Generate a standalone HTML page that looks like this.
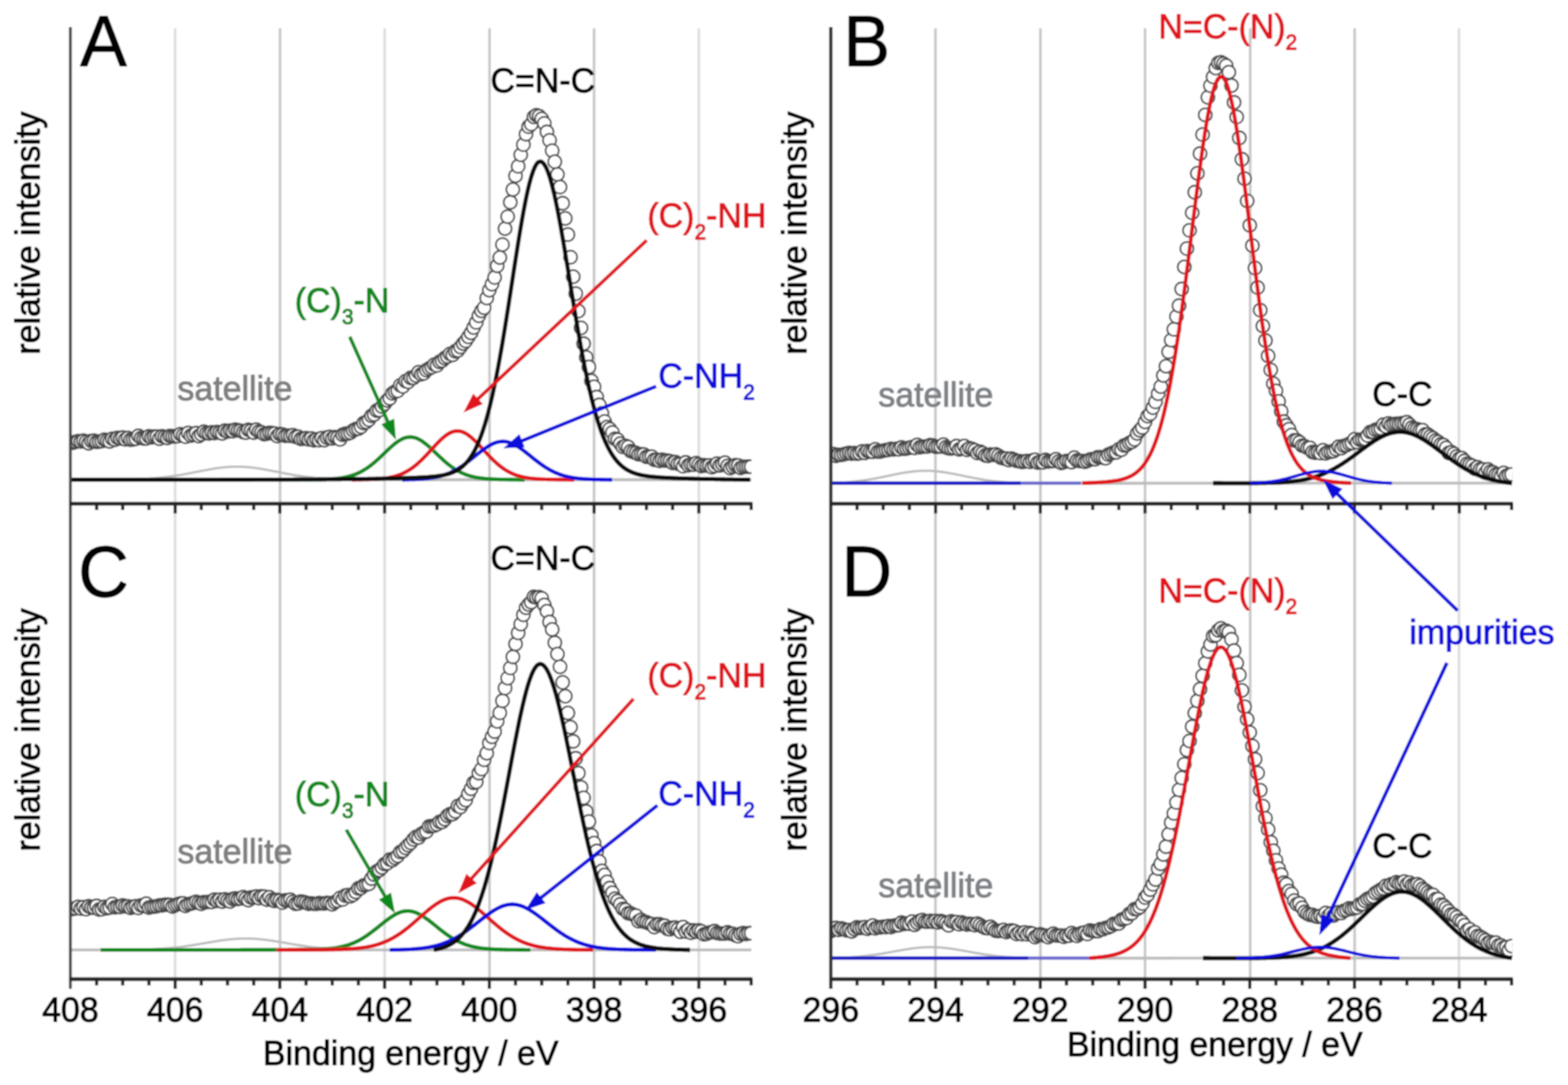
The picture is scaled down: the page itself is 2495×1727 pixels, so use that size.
<!DOCTYPE html>
<html lang="en">
<head>
<meta charset="utf-8">
<title>XPS spectra</title>
<style>
html,body{margin:0;padding:0;background:#fff;}
body{width:2495px;height:1727px;overflow:hidden;}
svg{display:block;}
</style>
</head>
<body>
<svg width="2495" height="1727" viewBox="0 0 2495 1727">
<defs><filter id="soft" x="0" y="0" width="100%" height="100%" filterUnits="objectBoundingBox"><feGaussianBlur stdDeviation="0.9"/></filter><filter id="soft2" x="0" y="0" width="100%" height="100%" filterUnits="objectBoundingBox"><feGaussianBlur stdDeviation="0.8"/></filter></defs>
<rect width="2495" height="1727" fill="#fff"/>
<g filter="url(#soft)">
<rect width="2495" height="1727" fill="#fff"/>
<g stroke-width="4.2">
<line x1="278.7" y1="45" x2="278.7" y2="1558.0" stroke="#dedede"/>
<line x1="445.6" y1="45" x2="445.6" y2="1558.0" stroke="#c8c8c8"/>
<line x1="612" y1="45" x2="612" y2="1558.0" stroke="#dedede"/>
<line x1="779" y1="45" x2="779" y2="1558.0" stroke="#c8c8c8"/>
<line x1="945.3" y1="45" x2="945.3" y2="1558.0" stroke="#c8c8c8"/>
<line x1="1112" y1="45" x2="1112" y2="1558.0" stroke="#dedede"/>
<line x1="1488.5" y1="45" x2="1488.5" y2="1558.0" stroke="#c8c8c8"/>
<line x1="1655.5" y1="45" x2="1655.5" y2="1558.0" stroke="#c8c8c8"/>
<line x1="1822" y1="45" x2="1822" y2="1558.0" stroke="#c8c8c8"/>
<line x1="1989.3" y1="45" x2="1989.3" y2="1558.0" stroke="#c8c8c8"/>
<line x1="2155.5" y1="45" x2="2155.5" y2="1558.0" stroke="#c8c8c8"/>
<line x1="2321.5" y1="45" x2="2321.5" y2="1558.0" stroke="#dedede"/>
</g>
<defs><clipPath id="clL"><rect x="112" y="0" width="1083.8" height="1727"/></clipPath><clipPath id="clR"><rect x="1322" y="0" width="1084.3" height="1727"/></clipPath></defs>
<g clip-path="url(#clL)"><g fill="#fff" stroke="#4a4a4a" stroke-width="2.8">
<circle cx="112" cy="704.3" r="10.5"/>
<circle cx="116.2" cy="704.7" r="10.5"/>
<circle cx="120.3" cy="703.4" r="10.5"/>
<circle cx="124.5" cy="702.1" r="10.5"/>
<circle cx="128.7" cy="702.7" r="10.5"/>
<circle cx="132.8" cy="701.5" r="10.5"/>
<circle cx="137" cy="703.3" r="10.5"/>
<circle cx="141.2" cy="705.5" r="10.5"/>
<circle cx="145.3" cy="701.8" r="10.5"/>
<circle cx="149.5" cy="701.4" r="10.5"/>
<circle cx="153.7" cy="703.3" r="10.5"/>
<circle cx="157.8" cy="702.8" r="10.5"/>
<circle cx="162" cy="702.1" r="10.5"/>
<circle cx="166.2" cy="699.9" r="10.5"/>
<circle cx="170.3" cy="701.4" r="10.5"/>
<circle cx="174.5" cy="702.5" r="10.5"/>
<circle cx="178.7" cy="698.4" r="10.5"/>
<circle cx="182.8" cy="699.9" r="10.5"/>
<circle cx="187" cy="696.9" r="10.5"/>
<circle cx="191.2" cy="697.8" r="10.5"/>
<circle cx="195.3" cy="696.5" r="10.5"/>
<circle cx="199.5" cy="699.3" r="10.5"/>
<circle cx="203.7" cy="697.1" r="10.5"/>
<circle cx="207.8" cy="699.8" r="10.5"/>
<circle cx="212" cy="699.3" r="10.5"/>
<circle cx="216.2" cy="698.4" r="10.5"/>
<circle cx="220.3" cy="693.7" r="10.5"/>
<circle cx="224.5" cy="697.2" r="10.5"/>
<circle cx="228.7" cy="697.9" r="10.5"/>
<circle cx="232.8" cy="697.9" r="10.5"/>
<circle cx="237" cy="694.5" r="10.5"/>
<circle cx="241.2" cy="696.2" r="10.5"/>
<circle cx="245.3" cy="695" r="10.5"/>
<circle cx="249.5" cy="695" r="10.5"/>
<circle cx="253.7" cy="698.3" r="10.5"/>
<circle cx="257.8" cy="694.4" r="10.5"/>
<circle cx="262" cy="695.6" r="10.5"/>
<circle cx="266.2" cy="697" r="10.5"/>
<circle cx="270.3" cy="693.9" r="10.5"/>
<circle cx="274.5" cy="694.5" r="10.5"/>
<circle cx="278.7" cy="694.5" r="10.5"/>
<circle cx="282.8" cy="694.1" r="10.5"/>
<circle cx="287" cy="691.2" r="10.5"/>
<circle cx="291.2" cy="693.3" r="10.5"/>
<circle cx="295.3" cy="695.2" r="10.5"/>
<circle cx="299.5" cy="689.2" r="10.5"/>
<circle cx="303.7" cy="693.3" r="10.5"/>
<circle cx="307.8" cy="691.5" r="10.5"/>
<circle cx="312" cy="689.5" r="10.5"/>
<circle cx="316.2" cy="694.1" r="10.5"/>
<circle cx="320.3" cy="691.3" r="10.5"/>
<circle cx="324.5" cy="687.2" r="10.5"/>
<circle cx="328.7" cy="689.3" r="10.5"/>
<circle cx="332.8" cy="689.9" r="10.5"/>
<circle cx="337" cy="688.1" r="10.5"/>
<circle cx="341.2" cy="689.4" r="10.5"/>
<circle cx="345.3" cy="687.6" r="10.5"/>
<circle cx="349.5" cy="688.6" r="10.5"/>
<circle cx="353.7" cy="689.8" r="10.5"/>
<circle cx="357.8" cy="685.4" r="10.5"/>
<circle cx="362" cy="686.9" r="10.5"/>
<circle cx="366.2" cy="685.4" r="10.5"/>
<circle cx="370.3" cy="686.4" r="10.5"/>
<circle cx="374.5" cy="683.8" r="10.5"/>
<circle cx="378.7" cy="684.9" r="10.5"/>
<circle cx="382.8" cy="685.7" r="10.5"/>
<circle cx="387" cy="687.9" r="10.5"/>
<circle cx="391.2" cy="688.6" r="10.5"/>
<circle cx="395.3" cy="684.2" r="10.5"/>
<circle cx="399.5" cy="685.5" r="10.5"/>
<circle cx="403.7" cy="688.5" r="10.5"/>
<circle cx="407.8" cy="683.8" r="10.5"/>
<circle cx="412" cy="687" r="10.5"/>
<circle cx="416.2" cy="688.1" r="10.5"/>
<circle cx="420.3" cy="691.1" r="10.5"/>
<circle cx="424.5" cy="690.4" r="10.5"/>
<circle cx="428.7" cy="689" r="10.5"/>
<circle cx="432.8" cy="689.5" r="10.5"/>
<circle cx="437" cy="690.2" r="10.5"/>
<circle cx="441.2" cy="694.1" r="10.5"/>
<circle cx="445.3" cy="691" r="10.5"/>
<circle cx="449.5" cy="691.7" r="10.5"/>
<circle cx="453.7" cy="693.6" r="10.5"/>
<circle cx="457.8" cy="693.3" r="10.5"/>
<circle cx="462" cy="693.7" r="10.5"/>
<circle cx="466.2" cy="692.6" r="10.5"/>
<circle cx="470.3" cy="695.3" r="10.5"/>
<circle cx="474.5" cy="695.1" r="10.5"/>
<circle cx="478.7" cy="698.7" r="10.5"/>
<circle cx="482.8" cy="698.3" r="10.5"/>
<circle cx="487" cy="697.5" r="10.5"/>
<circle cx="491.2" cy="699.3" r="10.5"/>
<circle cx="495.3" cy="697.8" r="10.5"/>
<circle cx="499.5" cy="700.9" r="10.5"/>
<circle cx="503.7" cy="699.3" r="10.5"/>
<circle cx="507.8" cy="700.7" r="10.5"/>
<circle cx="512" cy="697.4" r="10.5"/>
<circle cx="516.2" cy="700.6" r="10.5"/>
<circle cx="520.3" cy="696.5" r="10.5"/>
<circle cx="524.5" cy="695.3" r="10.5"/>
<circle cx="528.7" cy="697.8" r="10.5"/>
<circle cx="532.8" cy="695.7" r="10.5"/>
<circle cx="537" cy="696.7" r="10.5"/>
<circle cx="541.1" cy="699.4" r="10.5"/>
<circle cx="545.3" cy="692" r="10.5"/>
<circle cx="549.5" cy="690.5" r="10.5"/>
<circle cx="553.6" cy="690.1" r="10.5"/>
<circle cx="557.8" cy="688.6" r="10.5"/>
<circle cx="562" cy="685.2" r="10.5"/>
<circle cx="566.1" cy="683" r="10.5"/>
<circle cx="570.3" cy="682.3" r="10.5"/>
<circle cx="574.5" cy="679.3" r="10.5"/>
<circle cx="578.6" cy="673.4" r="10.5"/>
<circle cx="582.8" cy="671.8" r="10.5"/>
<circle cx="587" cy="668.1" r="10.5"/>
<circle cx="591.1" cy="661.8" r="10.5"/>
<circle cx="595.3" cy="659.9" r="10.5"/>
<circle cx="599.5" cy="653.5" r="10.5"/>
<circle cx="603.6" cy="652.8" r="10.5"/>
<circle cx="607.8" cy="647.2" r="10.5"/>
<circle cx="612" cy="642.8" r="10.5"/>
<circle cx="616.1" cy="637.3" r="10.5"/>
<circle cx="620.3" cy="634" r="10.5"/>
<circle cx="624.5" cy="626.2" r="10.5"/>
<circle cx="628.6" cy="623.5" r="10.5"/>
<circle cx="632.8" cy="622.1" r="10.5"/>
<circle cx="637" cy="613.3" r="10.5"/>
<circle cx="641.1" cy="615.1" r="10.5"/>
<circle cx="645.3" cy="606.6" r="10.5"/>
<circle cx="649.5" cy="607.8" r="10.5"/>
<circle cx="653.6" cy="601.5" r="10.5"/>
<circle cx="657.8" cy="601.6" r="10.5"/>
<circle cx="662" cy="597.8" r="10.5"/>
<circle cx="666.1" cy="592.4" r="10.5"/>
<circle cx="670.3" cy="595.7" r="10.5"/>
<circle cx="674.5" cy="594.1" r="10.5"/>
<circle cx="678.6" cy="589.2" r="10.5"/>
<circle cx="682.8" cy="586.6" r="10.5"/>
<circle cx="687" cy="584.4" r="10.5"/>
<circle cx="691.1" cy="580.4" r="10.5"/>
<circle cx="695.3" cy="581.7" r="10.5"/>
<circle cx="699.5" cy="576" r="10.5"/>
<circle cx="703.6" cy="574.2" r="10.5"/>
<circle cx="707.8" cy="570" r="10.5"/>
<circle cx="712" cy="567.5" r="10.5"/>
<circle cx="716.1" cy="563.3" r="10.5"/>
<circle cx="720.3" cy="564.9" r="10.5"/>
<circle cx="724.5" cy="559" r="10.5"/>
<circle cx="728.6" cy="557.8" r="10.5"/>
<circle cx="732.8" cy="552.3" r="10.5"/>
<circle cx="737" cy="546.9" r="10.5"/>
<circle cx="741.1" cy="542.7" r="10.5"/>
<circle cx="745.3" cy="536.1" r="10.5"/>
<circle cx="749.5" cy="529.9" r="10.5"/>
<circle cx="753.6" cy="521.3" r="10.5"/>
<circle cx="757.8" cy="513.2" r="10.5"/>
<circle cx="762" cy="502.6" r="10.5"/>
<circle cx="766.1" cy="494.8" r="10.5"/>
<circle cx="770.3" cy="489.8" r="10.5"/>
<circle cx="774.5" cy="474.4" r="10.5"/>
<circle cx="778.6" cy="461.8" r="10.5"/>
<circle cx="782.8" cy="452.3" r="10.5"/>
<circle cx="787" cy="441.7" r="10.5"/>
<circle cx="791.1" cy="423" r="10.5"/>
<circle cx="795.3" cy="409.9" r="10.5"/>
<circle cx="799.5" cy="389.3" r="10.5"/>
<circle cx="803.6" cy="363.9" r="10.5"/>
<circle cx="807.8" cy="344.8" r="10.5"/>
<circle cx="812" cy="322" r="10.5"/>
<circle cx="816.1" cy="301.6" r="10.5"/>
<circle cx="820.3" cy="279.9" r="10.5"/>
<circle cx="824.5" cy="264.7" r="10.5"/>
<circle cx="828.6" cy="246.4" r="10.5"/>
<circle cx="832.8" cy="230.2" r="10.5"/>
<circle cx="837" cy="213.5" r="10.5"/>
<circle cx="841.1" cy="201.7" r="10.5"/>
<circle cx="845.3" cy="197.7" r="10.5"/>
<circle cx="849.5" cy="186.1" r="10.5"/>
<circle cx="853.6" cy="183.4" r="10.5"/>
<circle cx="857.8" cy="184.9" r="10.5"/>
<circle cx="862" cy="189.2" r="10.5"/>
<circle cx="866.1" cy="196.3" r="10.5"/>
<circle cx="870.3" cy="210" r="10.5"/>
<circle cx="874.5" cy="223.3" r="10.5"/>
<circle cx="878.6" cy="239.8" r="10.5"/>
<circle cx="882.8" cy="257.4" r="10.5"/>
<circle cx="887" cy="277.6" r="10.5"/>
<circle cx="891.1" cy="297.7" r="10.5"/>
<circle cx="895.3" cy="323.5" r="10.5"/>
<circle cx="899.5" cy="347.6" r="10.5"/>
<circle cx="903.6" cy="373.4" r="10.5"/>
<circle cx="907.8" cy="409.3" r="10.5"/>
<circle cx="912" cy="440.4" r="10.5"/>
<circle cx="916.1" cy="467.3" r="10.5"/>
<circle cx="920.3" cy="495.1" r="10.5"/>
<circle cx="924.5" cy="521.8" r="10.5"/>
<circle cx="928.6" cy="547" r="10.5"/>
<circle cx="932.8" cy="568.8" r="10.5"/>
<circle cx="937" cy="584.2" r="10.5"/>
<circle cx="941.1" cy="606.2" r="10.5"/>
<circle cx="945.3" cy="615.7" r="10.5"/>
<circle cx="949.5" cy="632" r="10.5"/>
<circle cx="953.6" cy="644.5" r="10.5"/>
<circle cx="957.8" cy="658" r="10.5"/>
<circle cx="962" cy="670.8" r="10.5"/>
<circle cx="966.1" cy="679.6" r="10.5"/>
<circle cx="970.3" cy="682.8" r="10.5"/>
<circle cx="974.5" cy="688.3" r="10.5"/>
<circle cx="978.6" cy="698.5" r="10.5"/>
<circle cx="982.8" cy="699.8" r="10.5"/>
<circle cx="987" cy="706.1" r="10.5"/>
<circle cx="991.1" cy="711.4" r="10.5"/>
<circle cx="995.3" cy="709.7" r="10.5"/>
<circle cx="999.5" cy="711.4" r="10.5"/>
<circle cx="1003.6" cy="718.1" r="10.5"/>
<circle cx="1007.8" cy="719.7" r="10.5"/>
<circle cx="1012" cy="720.9" r="10.5"/>
<circle cx="1016.1" cy="723.2" r="10.5"/>
<circle cx="1020.3" cy="723.1" r="10.5"/>
<circle cx="1024.5" cy="723.3" r="10.5"/>
<circle cx="1028.6" cy="727.2" r="10.5"/>
<circle cx="1032.8" cy="727" r="10.5"/>
<circle cx="1037" cy="726.8" r="10.5"/>
<circle cx="1041.1" cy="731.9" r="10.5"/>
<circle cx="1045.3" cy="731.8" r="10.5"/>
<circle cx="1049.5" cy="733.5" r="10.5"/>
<circle cx="1053.6" cy="731.7" r="10.5"/>
<circle cx="1057.8" cy="733.1" r="10.5"/>
<circle cx="1062" cy="733.2" r="10.5"/>
<circle cx="1066.1" cy="734.1" r="10.5"/>
<circle cx="1070.3" cy="736.8" r="10.5"/>
<circle cx="1074.5" cy="735.5" r="10.5"/>
<circle cx="1078.6" cy="738.2" r="10.5"/>
<circle cx="1082.8" cy="738.6" r="10.5"/>
<circle cx="1087" cy="742.2" r="10.5"/>
<circle cx="1091.1" cy="736" r="10.5"/>
<circle cx="1095.3" cy="740.7" r="10.5"/>
<circle cx="1099.5" cy="739.2" r="10.5"/>
<circle cx="1103.6" cy="739.6" r="10.5"/>
<circle cx="1107.8" cy="737.2" r="10.5"/>
<circle cx="1112" cy="739.3" r="10.5"/>
<circle cx="1116.1" cy="741.8" r="10.5"/>
<circle cx="1120.3" cy="740.5" r="10.5"/>
<circle cx="1124.5" cy="741.1" r="10.5"/>
<circle cx="1128.6" cy="740.7" r="10.5"/>
<circle cx="1132.8" cy="743.7" r="10.5"/>
<circle cx="1137" cy="741.7" r="10.5"/>
<circle cx="1141.1" cy="737.8" r="10.5"/>
<circle cx="1145.3" cy="740.9" r="10.5"/>
<circle cx="1149.5" cy="738.7" r="10.5"/>
<circle cx="1153.6" cy="736.4" r="10.5"/>
<circle cx="1157.8" cy="741.7" r="10.5"/>
<circle cx="1162" cy="745.2" r="10.5"/>
<circle cx="1166.1" cy="742.8" r="10.5"/>
<circle cx="1170.3" cy="740.5" r="10.5"/>
<circle cx="1174.5" cy="740.9" r="10.5"/>
<circle cx="1178.6" cy="744.8" r="10.5"/>
<circle cx="1182.8" cy="743" r="10.5"/>
<circle cx="1187" cy="742.8" r="10.5"/>
<circle cx="1191.1" cy="742.6" r="10.5"/>
<circle cx="1195.3" cy="742.8" r="10.5"/>
</g></g>
<g clip-path="url(#clL)"><g fill="#fff" stroke="#4a4a4a" stroke-width="2.8">
<circle cx="112" cy="1447.1" r="10.5"/>
<circle cx="116.2" cy="1446.6" r="10.5"/>
<circle cx="120.3" cy="1445.8" r="10.5"/>
<circle cx="124.5" cy="1443.3" r="10.5"/>
<circle cx="128.7" cy="1446.2" r="10.5"/>
<circle cx="132.8" cy="1443.8" r="10.5"/>
<circle cx="137" cy="1447.1" r="10.5"/>
<circle cx="141.2" cy="1442.5" r="10.5"/>
<circle cx="145.3" cy="1444.5" r="10.5"/>
<circle cx="149.5" cy="1444.6" r="10.5"/>
<circle cx="153.7" cy="1442" r="10.5"/>
<circle cx="157.8" cy="1447.7" r="10.5"/>
<circle cx="162" cy="1447.1" r="10.5"/>
<circle cx="166.2" cy="1443.3" r="10.5"/>
<circle cx="170.3" cy="1445.5" r="10.5"/>
<circle cx="174.5" cy="1444.6" r="10.5"/>
<circle cx="178.7" cy="1438.8" r="10.5"/>
<circle cx="182.8" cy="1444.1" r="10.5"/>
<circle cx="187" cy="1443.4" r="10.5"/>
<circle cx="191.2" cy="1443.5" r="10.5"/>
<circle cx="195.3" cy="1441.2" r="10.5"/>
<circle cx="199.5" cy="1442.5" r="10.5"/>
<circle cx="203.7" cy="1442.6" r="10.5"/>
<circle cx="207.8" cy="1445" r="10.5"/>
<circle cx="212" cy="1443.3" r="10.5"/>
<circle cx="216.2" cy="1442.5" r="10.5"/>
<circle cx="220.3" cy="1445.2" r="10.5"/>
<circle cx="224.5" cy="1441.1" r="10.5"/>
<circle cx="228.7" cy="1441.3" r="10.5"/>
<circle cx="232.8" cy="1438.4" r="10.5"/>
<circle cx="237" cy="1444.6" r="10.5"/>
<circle cx="241.2" cy="1443.3" r="10.5"/>
<circle cx="245.3" cy="1443.1" r="10.5"/>
<circle cx="249.5" cy="1442.4" r="10.5"/>
<circle cx="253.7" cy="1441.2" r="10.5"/>
<circle cx="257.8" cy="1441.2" r="10.5"/>
<circle cx="262" cy="1440.1" r="10.5"/>
<circle cx="266.2" cy="1440" r="10.5"/>
<circle cx="270.3" cy="1440.3" r="10.5"/>
<circle cx="274.5" cy="1442.8" r="10.5"/>
<circle cx="278.7" cy="1440.8" r="10.5"/>
<circle cx="282.8" cy="1439.4" r="10.5"/>
<circle cx="287" cy="1438.1" r="10.5"/>
<circle cx="291.2" cy="1437.8" r="10.5"/>
<circle cx="295.3" cy="1441.8" r="10.5"/>
<circle cx="299.5" cy="1439.4" r="10.5"/>
<circle cx="303.7" cy="1438.3" r="10.5"/>
<circle cx="307.8" cy="1437.2" r="10.5"/>
<circle cx="312" cy="1435.5" r="10.5"/>
<circle cx="316.2" cy="1437.1" r="10.5"/>
<circle cx="320.3" cy="1438.6" r="10.5"/>
<circle cx="324.5" cy="1435.8" r="10.5"/>
<circle cx="328.7" cy="1435.8" r="10.5"/>
<circle cx="332.8" cy="1435.4" r="10.5"/>
<circle cx="337" cy="1435.6" r="10.5"/>
<circle cx="341.2" cy="1431.9" r="10.5"/>
<circle cx="345.3" cy="1433.9" r="10.5"/>
<circle cx="349.5" cy="1432.2" r="10.5"/>
<circle cx="353.7" cy="1435" r="10.5"/>
<circle cx="357.8" cy="1431.4" r="10.5"/>
<circle cx="362" cy="1433.4" r="10.5"/>
<circle cx="366.2" cy="1434.8" r="10.5"/>
<circle cx="370.3" cy="1430.8" r="10.5"/>
<circle cx="374.5" cy="1429.9" r="10.5"/>
<circle cx="378.7" cy="1430.9" r="10.5"/>
<circle cx="382.8" cy="1430.1" r="10.5"/>
<circle cx="387" cy="1427.8" r="10.5"/>
<circle cx="391.2" cy="1430.2" r="10.5"/>
<circle cx="395.3" cy="1432.9" r="10.5"/>
<circle cx="399.5" cy="1428.5" r="10.5"/>
<circle cx="403.7" cy="1428.5" r="10.5"/>
<circle cx="407.8" cy="1427" r="10.5"/>
<circle cx="412" cy="1429.6" r="10.5"/>
<circle cx="416.2" cy="1426.7" r="10.5"/>
<circle cx="420.3" cy="1427.1" r="10.5"/>
<circle cx="424.5" cy="1431.9" r="10.5"/>
<circle cx="428.7" cy="1428.1" r="10.5"/>
<circle cx="432.8" cy="1432.5" r="10.5"/>
<circle cx="437" cy="1434" r="10.5"/>
<circle cx="441.2" cy="1432.3" r="10.5"/>
<circle cx="445.3" cy="1433.5" r="10.5"/>
<circle cx="449.5" cy="1436.7" r="10.5"/>
<circle cx="453.7" cy="1433.2" r="10.5"/>
<circle cx="457.8" cy="1433" r="10.5"/>
<circle cx="462" cy="1432.1" r="10.5"/>
<circle cx="466.2" cy="1435.3" r="10.5"/>
<circle cx="470.3" cy="1438.5" r="10.5"/>
<circle cx="474.5" cy="1438" r="10.5"/>
<circle cx="478.7" cy="1434.9" r="10.5"/>
<circle cx="482.8" cy="1435.6" r="10.5"/>
<circle cx="487" cy="1436.8" r="10.5"/>
<circle cx="491.2" cy="1438.7" r="10.5"/>
<circle cx="495.3" cy="1437.9" r="10.5"/>
<circle cx="499.5" cy="1438.7" r="10.5"/>
<circle cx="503.7" cy="1438.7" r="10.5"/>
<circle cx="507.8" cy="1437.5" r="10.5"/>
<circle cx="512" cy="1437.8" r="10.5"/>
<circle cx="516.2" cy="1438.1" r="10.5"/>
<circle cx="520.3" cy="1437.1" r="10.5"/>
<circle cx="524.5" cy="1437.6" r="10.5"/>
<circle cx="528.7" cy="1439.4" r="10.5"/>
<circle cx="532.8" cy="1436" r="10.5"/>
<circle cx="537" cy="1433.9" r="10.5"/>
<circle cx="541.1" cy="1429.3" r="10.5"/>
<circle cx="545.3" cy="1431.7" r="10.5"/>
<circle cx="549.5" cy="1425.5" r="10.5"/>
<circle cx="553.6" cy="1424.6" r="10.5"/>
<circle cx="557.8" cy="1426.7" r="10.5"/>
<circle cx="562" cy="1424.1" r="10.5"/>
<circle cx="566.1" cy="1419.9" r="10.5"/>
<circle cx="570.3" cy="1414" r="10.5"/>
<circle cx="574.5" cy="1413.4" r="10.5"/>
<circle cx="578.6" cy="1409.4" r="10.5"/>
<circle cx="582.8" cy="1408.1" r="10.5"/>
<circle cx="587" cy="1406.9" r="10.5"/>
<circle cx="591.1" cy="1398.5" r="10.5"/>
<circle cx="595.3" cy="1392" r="10.5"/>
<circle cx="599.5" cy="1386.9" r="10.5"/>
<circle cx="603.6" cy="1385" r="10.5"/>
<circle cx="607.8" cy="1380.9" r="10.5"/>
<circle cx="612" cy="1375.3" r="10.5"/>
<circle cx="616.1" cy="1374" r="10.5"/>
<circle cx="620.3" cy="1368.1" r="10.5"/>
<circle cx="624.5" cy="1369" r="10.5"/>
<circle cx="628.6" cy="1365.6" r="10.5"/>
<circle cx="632.8" cy="1362.3" r="10.5"/>
<circle cx="637" cy="1356.1" r="10.5"/>
<circle cx="641.1" cy="1354.5" r="10.5"/>
<circle cx="645.3" cy="1349.6" r="10.5"/>
<circle cx="649.5" cy="1345.3" r="10.5"/>
<circle cx="653.6" cy="1341.6" r="10.5"/>
<circle cx="657.8" cy="1336.1" r="10.5"/>
<circle cx="662" cy="1332.2" r="10.5"/>
<circle cx="666.1" cy="1333" r="10.5"/>
<circle cx="670.3" cy="1327.7" r="10.5"/>
<circle cx="674.5" cy="1325.1" r="10.5"/>
<circle cx="678.6" cy="1323.5" r="10.5"/>
<circle cx="682.8" cy="1315.5" r="10.5"/>
<circle cx="687" cy="1314.8" r="10.5"/>
<circle cx="691.1" cy="1314.2" r="10.5"/>
<circle cx="695.3" cy="1312.2" r="10.5"/>
<circle cx="699.5" cy="1308.2" r="10.5"/>
<circle cx="703.6" cy="1308.3" r="10.5"/>
<circle cx="707.8" cy="1304" r="10.5"/>
<circle cx="712" cy="1298.5" r="10.5"/>
<circle cx="716.1" cy="1296" r="10.5"/>
<circle cx="720.3" cy="1295.9" r="10.5"/>
<circle cx="724.5" cy="1291.6" r="10.5"/>
<circle cx="728.6" cy="1283" r="10.5"/>
<circle cx="732.8" cy="1284.6" r="10.5"/>
<circle cx="737" cy="1278.1" r="10.5"/>
<circle cx="741.1" cy="1273.6" r="10.5"/>
<circle cx="745.3" cy="1263.3" r="10.5"/>
<circle cx="749.5" cy="1255.6" r="10.5"/>
<circle cx="753.6" cy="1246" r="10.5"/>
<circle cx="757.8" cy="1244.6" r="10.5"/>
<circle cx="762" cy="1230.5" r="10.5"/>
<circle cx="766.1" cy="1224.2" r="10.5"/>
<circle cx="770.3" cy="1209.3" r="10.5"/>
<circle cx="774.5" cy="1198.9" r="10.5"/>
<circle cx="778.6" cy="1182.7" r="10.5"/>
<circle cx="782.8" cy="1172.8" r="10.5"/>
<circle cx="787" cy="1164.5" r="10.5"/>
<circle cx="791.1" cy="1148.1" r="10.5"/>
<circle cx="795.3" cy="1134.7" r="10.5"/>
<circle cx="799.5" cy="1115.5" r="10.5"/>
<circle cx="803.6" cy="1095.2" r="10.5"/>
<circle cx="807.8" cy="1079.3" r="10.5"/>
<circle cx="812" cy="1063.2" r="10.5"/>
<circle cx="816.1" cy="1045.5" r="10.5"/>
<circle cx="820.3" cy="1025" r="10.5"/>
<circle cx="824.5" cy="1007.4" r="10.5"/>
<circle cx="828.6" cy="993.4" r="10.5"/>
<circle cx="832.8" cy="978.6" r="10.5"/>
<circle cx="837" cy="967.3" r="10.5"/>
<circle cx="841.1" cy="962.1" r="10.5"/>
<circle cx="845.3" cy="958.5" r="10.5"/>
<circle cx="849.5" cy="950" r="10.5"/>
<circle cx="853.6" cy="951.2" r="10.5"/>
<circle cx="857.8" cy="950.5" r="10.5"/>
<circle cx="862" cy="952.3" r="10.5"/>
<circle cx="866.1" cy="962.9" r="10.5"/>
<circle cx="870.3" cy="972.9" r="10.5"/>
<circle cx="874.5" cy="990" r="10.5"/>
<circle cx="878.6" cy="1001.9" r="10.5"/>
<circle cx="882.8" cy="1023" r="10.5"/>
<circle cx="887" cy="1041.1" r="10.5"/>
<circle cx="891.1" cy="1061.3" r="10.5"/>
<circle cx="895.3" cy="1086.1" r="10.5"/>
<circle cx="899.5" cy="1108.1" r="10.5"/>
<circle cx="903.6" cy="1134.9" r="10.5"/>
<circle cx="907.8" cy="1157.4" r="10.5"/>
<circle cx="912" cy="1180" r="10.5"/>
<circle cx="916.1" cy="1207" r="10.5"/>
<circle cx="920.3" cy="1230.5" r="10.5"/>
<circle cx="924.5" cy="1253.2" r="10.5"/>
<circle cx="928.6" cy="1269.8" r="10.5"/>
<circle cx="932.8" cy="1291.5" r="10.5"/>
<circle cx="937" cy="1307.6" r="10.5"/>
<circle cx="941.1" cy="1329.6" r="10.5"/>
<circle cx="945.3" cy="1341.9" r="10.5"/>
<circle cx="949.5" cy="1354.5" r="10.5"/>
<circle cx="953.6" cy="1371.2" r="10.5"/>
<circle cx="957.8" cy="1386.2" r="10.5"/>
<circle cx="962" cy="1392.7" r="10.5"/>
<circle cx="966.1" cy="1403.6" r="10.5"/>
<circle cx="970.3" cy="1413.5" r="10.5"/>
<circle cx="974.5" cy="1420.9" r="10.5"/>
<circle cx="978.6" cy="1430.4" r="10.5"/>
<circle cx="982.8" cy="1434" r="10.5"/>
<circle cx="987" cy="1439.5" r="10.5"/>
<circle cx="991.1" cy="1446.7" r="10.5"/>
<circle cx="995.3" cy="1448.1" r="10.5"/>
<circle cx="999.5" cy="1453.7" r="10.5"/>
<circle cx="1003.6" cy="1454" r="10.5"/>
<circle cx="1007.8" cy="1456.1" r="10.5"/>
<circle cx="1012" cy="1457.3" r="10.5"/>
<circle cx="1016.1" cy="1466.4" r="10.5"/>
<circle cx="1020.3" cy="1464.2" r="10.5"/>
<circle cx="1024.5" cy="1467" r="10.5"/>
<circle cx="1028.6" cy="1468" r="10.5"/>
<circle cx="1032.8" cy="1469.8" r="10.5"/>
<circle cx="1037" cy="1470.9" r="10.5"/>
<circle cx="1041.1" cy="1475.6" r="10.5"/>
<circle cx="1045.3" cy="1471.2" r="10.5"/>
<circle cx="1049.5" cy="1471.2" r="10.5"/>
<circle cx="1053.6" cy="1473.2" r="10.5"/>
<circle cx="1057.8" cy="1473.5" r="10.5"/>
<circle cx="1062" cy="1478.3" r="10.5"/>
<circle cx="1066.1" cy="1479.2" r="10.5"/>
<circle cx="1070.3" cy="1476.6" r="10.5"/>
<circle cx="1074.5" cy="1476.5" r="10.5"/>
<circle cx="1078.6" cy="1479.1" r="10.5"/>
<circle cx="1082.8" cy="1483.1" r="10.5"/>
<circle cx="1087" cy="1475.7" r="10.5"/>
<circle cx="1091.1" cy="1482.6" r="10.5"/>
<circle cx="1095.3" cy="1480.1" r="10.5"/>
<circle cx="1099.5" cy="1484.6" r="10.5"/>
<circle cx="1103.6" cy="1481" r="10.5"/>
<circle cx="1107.8" cy="1482.9" r="10.5"/>
<circle cx="1112" cy="1480.9" r="10.5"/>
<circle cx="1116.1" cy="1482.3" r="10.5"/>
<circle cx="1120.3" cy="1487.2" r="10.5"/>
<circle cx="1124.5" cy="1486.4" r="10.5"/>
<circle cx="1128.6" cy="1484.4" r="10.5"/>
<circle cx="1132.8" cy="1483.7" r="10.5"/>
<circle cx="1137" cy="1482" r="10.5"/>
<circle cx="1141.1" cy="1485" r="10.5"/>
<circle cx="1145.3" cy="1485.8" r="10.5"/>
<circle cx="1149.5" cy="1485.8" r="10.5"/>
<circle cx="1153.6" cy="1485.9" r="10.5"/>
<circle cx="1157.8" cy="1484" r="10.5"/>
<circle cx="1162" cy="1486.1" r="10.5"/>
<circle cx="1166.1" cy="1486.3" r="10.5"/>
<circle cx="1170.3" cy="1488.9" r="10.5"/>
<circle cx="1174.5" cy="1490.1" r="10.5"/>
<circle cx="1178.6" cy="1486.3" r="10.5"/>
<circle cx="1182.8" cy="1485.2" r="10.5"/>
<circle cx="1187" cy="1486.5" r="10.5"/>
<circle cx="1191.1" cy="1485.5" r="10.5"/>
<circle cx="1195.3" cy="1485.3" r="10.5"/>
</g></g>
<g clip-path="url(#clR)"><g fill="#fff" stroke="#4a4a4a" stroke-width="2.8">
<circle cx="1322" cy="724.7" r="10.5"/>
<circle cx="1326.2" cy="722.6" r="10.5"/>
<circle cx="1330.3" cy="725.5" r="10.5"/>
<circle cx="1334.5" cy="723.8" r="10.5"/>
<circle cx="1338.7" cy="724.2" r="10.5"/>
<circle cx="1342.8" cy="723.1" r="10.5"/>
<circle cx="1347" cy="721.8" r="10.5"/>
<circle cx="1351.2" cy="721" r="10.5"/>
<circle cx="1355.3" cy="722" r="10.5"/>
<circle cx="1359.5" cy="721.1" r="10.5"/>
<circle cx="1363.7" cy="722.2" r="10.5"/>
<circle cx="1367.8" cy="721.4" r="10.5"/>
<circle cx="1372" cy="718.5" r="10.5"/>
<circle cx="1376.2" cy="720.8" r="10.5"/>
<circle cx="1380.3" cy="717.8" r="10.5"/>
<circle cx="1384.5" cy="718.8" r="10.5"/>
<circle cx="1388.7" cy="719" r="10.5"/>
<circle cx="1392.8" cy="715.2" r="10.5"/>
<circle cx="1397" cy="718.9" r="10.5"/>
<circle cx="1401.2" cy="718.5" r="10.5"/>
<circle cx="1405.3" cy="717.4" r="10.5"/>
<circle cx="1409.5" cy="716.5" r="10.5"/>
<circle cx="1413.7" cy="716.1" r="10.5"/>
<circle cx="1417.8" cy="714.4" r="10.5"/>
<circle cx="1422" cy="715.3" r="10.5"/>
<circle cx="1426.2" cy="714.3" r="10.5"/>
<circle cx="1430.3" cy="715.1" r="10.5"/>
<circle cx="1434.5" cy="712.2" r="10.5"/>
<circle cx="1438.7" cy="714.4" r="10.5"/>
<circle cx="1442.8" cy="713.8" r="10.5"/>
<circle cx="1447" cy="712.7" r="10.5"/>
<circle cx="1451.2" cy="711.6" r="10.5"/>
<circle cx="1455.3" cy="712.9" r="10.5"/>
<circle cx="1459.5" cy="708.2" r="10.5"/>
<circle cx="1463.7" cy="711.8" r="10.5"/>
<circle cx="1467.8" cy="710.9" r="10.5"/>
<circle cx="1472" cy="710.7" r="10.5"/>
<circle cx="1476.2" cy="710.6" r="10.5"/>
<circle cx="1480.3" cy="708.5" r="10.5"/>
<circle cx="1484.5" cy="709.2" r="10.5"/>
<circle cx="1488.7" cy="711" r="10.5"/>
<circle cx="1492.8" cy="710.8" r="10.5"/>
<circle cx="1497" cy="710.7" r="10.5"/>
<circle cx="1501.2" cy="707.7" r="10.5"/>
<circle cx="1505.3" cy="712" r="10.5"/>
<circle cx="1509.5" cy="713.7" r="10.5"/>
<circle cx="1513.7" cy="713.9" r="10.5"/>
<circle cx="1517.8" cy="712.9" r="10.5"/>
<circle cx="1522" cy="710" r="10.5"/>
<circle cx="1526.2" cy="715.3" r="10.5"/>
<circle cx="1530.3" cy="713.8" r="10.5"/>
<circle cx="1534.5" cy="709.9" r="10.5"/>
<circle cx="1538.7" cy="716.1" r="10.5"/>
<circle cx="1542.8" cy="713.3" r="10.5"/>
<circle cx="1547" cy="714.6" r="10.5"/>
<circle cx="1551.2" cy="716.7" r="10.5"/>
<circle cx="1555.3" cy="721.2" r="10.5"/>
<circle cx="1559.5" cy="719" r="10.5"/>
<circle cx="1563.7" cy="721.2" r="10.5"/>
<circle cx="1567.8" cy="724.9" r="10.5"/>
<circle cx="1572" cy="725.5" r="10.5"/>
<circle cx="1576.2" cy="723.3" r="10.5"/>
<circle cx="1580.3" cy="724.1" r="10.5"/>
<circle cx="1584.5" cy="723.2" r="10.5"/>
<circle cx="1588.7" cy="725.3" r="10.5"/>
<circle cx="1592.8" cy="728.5" r="10.5"/>
<circle cx="1597" cy="729.5" r="10.5"/>
<circle cx="1601.2" cy="729.9" r="10.5"/>
<circle cx="1605.3" cy="732.4" r="10.5"/>
<circle cx="1609.5" cy="729.8" r="10.5"/>
<circle cx="1613.7" cy="731.7" r="10.5"/>
<circle cx="1617.8" cy="733.7" r="10.5"/>
<circle cx="1622" cy="733.9" r="10.5"/>
<circle cx="1626.2" cy="735.4" r="10.5"/>
<circle cx="1630.3" cy="734.5" r="10.5"/>
<circle cx="1634.5" cy="733.6" r="10.5"/>
<circle cx="1638.7" cy="735.2" r="10.5"/>
<circle cx="1642.8" cy="732.9" r="10.5"/>
<circle cx="1647" cy="731.9" r="10.5"/>
<circle cx="1651.2" cy="736.3" r="10.5"/>
<circle cx="1655.3" cy="735.1" r="10.5"/>
<circle cx="1659.5" cy="735.8" r="10.5"/>
<circle cx="1663.7" cy="732" r="10.5"/>
<circle cx="1667.8" cy="734.5" r="10.5"/>
<circle cx="1672" cy="734.1" r="10.5"/>
<circle cx="1676.2" cy="733.6" r="10.5"/>
<circle cx="1680.3" cy="730.9" r="10.5"/>
<circle cx="1684.5" cy="734.6" r="10.5"/>
<circle cx="1688.7" cy="736.8" r="10.5"/>
<circle cx="1692.8" cy="735.7" r="10.5"/>
<circle cx="1697" cy="733.6" r="10.5"/>
<circle cx="1701.2" cy="734.4" r="10.5"/>
<circle cx="1705.3" cy="735.5" r="10.5"/>
<circle cx="1709.5" cy="728.4" r="10.5"/>
<circle cx="1713.7" cy="733" r="10.5"/>
<circle cx="1717.8" cy="733.8" r="10.5"/>
<circle cx="1722" cy="733.7" r="10.5"/>
<circle cx="1726.2" cy="735.1" r="10.5"/>
<circle cx="1730.3" cy="733.5" r="10.5"/>
<circle cx="1734.5" cy="731.3" r="10.5"/>
<circle cx="1738.7" cy="730.6" r="10.5"/>
<circle cx="1742.8" cy="730.8" r="10.5"/>
<circle cx="1747" cy="727.6" r="10.5"/>
<circle cx="1751.1" cy="727.7" r="10.5"/>
<circle cx="1755.3" cy="728.5" r="10.5"/>
<circle cx="1759.5" cy="729.3" r="10.5"/>
<circle cx="1763.6" cy="723.7" r="10.5"/>
<circle cx="1767.8" cy="721.9" r="10.5"/>
<circle cx="1772" cy="720.1" r="10.5"/>
<circle cx="1776.1" cy="720" r="10.5"/>
<circle cx="1780.3" cy="715.2" r="10.5"/>
<circle cx="1784.5" cy="715.9" r="10.5"/>
<circle cx="1788.6" cy="709.1" r="10.5"/>
<circle cx="1792.8" cy="708" r="10.5"/>
<circle cx="1797" cy="705.1" r="10.5"/>
<circle cx="1801.1" cy="703.4" r="10.5"/>
<circle cx="1805.3" cy="699.6" r="10.5"/>
<circle cx="1809.5" cy="689.8" r="10.5"/>
<circle cx="1813.6" cy="684.9" r="10.5"/>
<circle cx="1817.8" cy="680.5" r="10.5"/>
<circle cx="1822" cy="671.6" r="10.5"/>
<circle cx="1826.1" cy="662.4" r="10.5"/>
<circle cx="1830.3" cy="658.7" r="10.5"/>
<circle cx="1834.5" cy="648.8" r="10.5"/>
<circle cx="1838.6" cy="639.7" r="10.5"/>
<circle cx="1842.8" cy="626.6" r="10.5"/>
<circle cx="1847" cy="615.4" r="10.5"/>
<circle cx="1851.1" cy="597.6" r="10.5"/>
<circle cx="1855.3" cy="582.9" r="10.5"/>
<circle cx="1859.5" cy="560" r="10.5"/>
<circle cx="1863.6" cy="541.3" r="10.5"/>
<circle cx="1867.8" cy="524.1" r="10.5"/>
<circle cx="1872" cy="503.8" r="10.5"/>
<circle cx="1876.1" cy="486.5" r="10.5"/>
<circle cx="1880.3" cy="460" r="10.5"/>
<circle cx="1884.5" cy="424.9" r="10.5"/>
<circle cx="1888.6" cy="395.7" r="10.5"/>
<circle cx="1892.8" cy="366.7" r="10.5"/>
<circle cx="1897" cy="338.6" r="10.5"/>
<circle cx="1901.1" cy="306" r="10.5"/>
<circle cx="1905.3" cy="275.9" r="10.5"/>
<circle cx="1909.5" cy="244.5" r="10.5"/>
<circle cx="1913.6" cy="214.2" r="10.5"/>
<circle cx="1917.8" cy="182.9" r="10.5"/>
<circle cx="1922" cy="154.8" r="10.5"/>
<circle cx="1926.1" cy="136.3" r="10.5"/>
<circle cx="1930.3" cy="122.4" r="10.5"/>
<circle cx="1934.5" cy="108.4" r="10.5"/>
<circle cx="1938.6" cy="100.1" r="10.5"/>
<circle cx="1942.8" cy="99.2" r="10.5"/>
<circle cx="1947" cy="101.3" r="10.5"/>
<circle cx="1951.1" cy="104.4" r="10.5"/>
<circle cx="1955.3" cy="114.9" r="10.5"/>
<circle cx="1959.5" cy="136" r="10.5"/>
<circle cx="1963.6" cy="163" r="10.5"/>
<circle cx="1967.8" cy="186.2" r="10.5"/>
<circle cx="1972" cy="219.5" r="10.5"/>
<circle cx="1976.1" cy="253.5" r="10.5"/>
<circle cx="1980.3" cy="284.4" r="10.5"/>
<circle cx="1984.5" cy="319.8" r="10.5"/>
<circle cx="1988.6" cy="358.6" r="10.5"/>
<circle cx="1992.8" cy="390.9" r="10.5"/>
<circle cx="1997" cy="426.7" r="10.5"/>
<circle cx="2001.1" cy="457.7" r="10.5"/>
<circle cx="2005.3" cy="493.7" r="10.5"/>
<circle cx="2009.5" cy="518.9" r="10.5"/>
<circle cx="2013.6" cy="542" r="10.5"/>
<circle cx="2017.8" cy="566.4" r="10.5"/>
<circle cx="2022" cy="588.8" r="10.5"/>
<circle cx="2026.1" cy="610.6" r="10.5"/>
<circle cx="2030.3" cy="622.1" r="10.5"/>
<circle cx="2034.5" cy="638.9" r="10.5"/>
<circle cx="2038.6" cy="654.6" r="10.5"/>
<circle cx="2042.8" cy="671" r="10.5"/>
<circle cx="2047" cy="677" r="10.5"/>
<circle cx="2051.1" cy="683.1" r="10.5"/>
<circle cx="2055.3" cy="692.3" r="10.5"/>
<circle cx="2059.5" cy="701" r="10.5"/>
<circle cx="2063.6" cy="701" r="10.5"/>
<circle cx="2067.8" cy="704" r="10.5"/>
<circle cx="2072" cy="709.4" r="10.5"/>
<circle cx="2076.1" cy="710.3" r="10.5"/>
<circle cx="2080.3" cy="712.9" r="10.5"/>
<circle cx="2084.5" cy="712.9" r="10.5"/>
<circle cx="2088.6" cy="719.5" r="10.5"/>
<circle cx="2092.8" cy="720.6" r="10.5"/>
<circle cx="2097" cy="719.9" r="10.5"/>
<circle cx="2101.1" cy="721.2" r="10.5"/>
<circle cx="2105.3" cy="716.6" r="10.5"/>
<circle cx="2109.5" cy="721.6" r="10.5"/>
<circle cx="2113.6" cy="719.2" r="10.5"/>
<circle cx="2117.8" cy="719.1" r="10.5"/>
<circle cx="2122" cy="718.2" r="10.5"/>
<circle cx="2126.1" cy="715" r="10.5"/>
<circle cx="2130.3" cy="711" r="10.5"/>
<circle cx="2134.5" cy="713.4" r="10.5"/>
<circle cx="2138.6" cy="709.6" r="10.5"/>
<circle cx="2142.8" cy="708.7" r="10.5"/>
<circle cx="2147" cy="706.3" r="10.5"/>
<circle cx="2151.1" cy="704.9" r="10.5"/>
<circle cx="2155.3" cy="699.1" r="10.5"/>
<circle cx="2159.5" cy="703.8" r="10.5"/>
<circle cx="2163.6" cy="699.9" r="10.5"/>
<circle cx="2167.8" cy="699.4" r="10.5"/>
<circle cx="2172" cy="698.9" r="10.5"/>
<circle cx="2176.1" cy="693.2" r="10.5"/>
<circle cx="2180.3" cy="687.6" r="10.5"/>
<circle cx="2184.5" cy="687.2" r="10.5"/>
<circle cx="2188.6" cy="684.2" r="10.5"/>
<circle cx="2192.8" cy="683.1" r="10.5"/>
<circle cx="2197" cy="681.9" r="10.5"/>
<circle cx="2201.1" cy="676" r="10.5"/>
<circle cx="2205.3" cy="678.8" r="10.5"/>
<circle cx="2209.5" cy="673.9" r="10.5"/>
<circle cx="2213.6" cy="676.4" r="10.5"/>
<circle cx="2217.8" cy="675.1" r="10.5"/>
<circle cx="2222" cy="674.4" r="10.5"/>
<circle cx="2226.1" cy="674.6" r="10.5"/>
<circle cx="2230.3" cy="673.6" r="10.5"/>
<circle cx="2234.5" cy="673.6" r="10.5"/>
<circle cx="2238.6" cy="672" r="10.5"/>
<circle cx="2242.8" cy="675.9" r="10.5"/>
<circle cx="2247" cy="680.5" r="10.5"/>
<circle cx="2251.1" cy="682.3" r="10.5"/>
<circle cx="2255.3" cy="683.2" r="10.5"/>
<circle cx="2259.5" cy="684.7" r="10.5"/>
<circle cx="2263.6" cy="684.7" r="10.5"/>
<circle cx="2267.8" cy="691.5" r="10.5"/>
<circle cx="2272" cy="691.6" r="10.5"/>
<circle cx="2276.1" cy="694.6" r="10.5"/>
<circle cx="2280.3" cy="697.3" r="10.5"/>
<circle cx="2284.5" cy="701.1" r="10.5"/>
<circle cx="2288.6" cy="703.3" r="10.5"/>
<circle cx="2292.8" cy="707.1" r="10.5"/>
<circle cx="2297" cy="708.4" r="10.5"/>
<circle cx="2301.1" cy="712.9" r="10.5"/>
<circle cx="2305.3" cy="721" r="10.5"/>
<circle cx="2309.5" cy="719.6" r="10.5"/>
<circle cx="2313.6" cy="722.3" r="10.5"/>
<circle cx="2317.8" cy="726.7" r="10.5"/>
<circle cx="2322" cy="729.9" r="10.5"/>
<circle cx="2326.1" cy="729.1" r="10.5"/>
<circle cx="2330.3" cy="733.5" r="10.5"/>
<circle cx="2334.5" cy="738.2" r="10.5"/>
<circle cx="2338.6" cy="739.4" r="10.5"/>
<circle cx="2342.8" cy="741.3" r="10.5"/>
<circle cx="2347" cy="746.1" r="10.5"/>
<circle cx="2351.1" cy="743.7" r="10.5"/>
<circle cx="2355.3" cy="746.8" r="10.5"/>
<circle cx="2359.5" cy="747.2" r="10.5"/>
<circle cx="2363.6" cy="752.4" r="10.5"/>
<circle cx="2367.8" cy="747.1" r="10.5"/>
<circle cx="2372" cy="750.6" r="10.5"/>
<circle cx="2376.1" cy="751.9" r="10.5"/>
<circle cx="2380.3" cy="755" r="10.5"/>
<circle cx="2384.5" cy="755.7" r="10.5"/>
<circle cx="2388.6" cy="757.7" r="10.5"/>
<circle cx="2392.8" cy="752.6" r="10.5"/>
<circle cx="2397" cy="757.4" r="10.5"/>
<circle cx="2401.1" cy="755.7" r="10.5"/>
<circle cx="2405.3" cy="755.2" r="10.5"/>
</g></g>
<g clip-path="url(#clR)"><g fill="#fff" stroke="#4a4a4a" stroke-width="2.8">
<circle cx="1322" cy="1482.2" r="10.5"/>
<circle cx="1326.2" cy="1479.3" r="10.5"/>
<circle cx="1330.3" cy="1477" r="10.5"/>
<circle cx="1334.5" cy="1480" r="10.5"/>
<circle cx="1338.7" cy="1477.7" r="10.5"/>
<circle cx="1342.8" cy="1479.1" r="10.5"/>
<circle cx="1347" cy="1480.8" r="10.5"/>
<circle cx="1351.2" cy="1480.4" r="10.5"/>
<circle cx="1355.3" cy="1482.5" r="10.5"/>
<circle cx="1359.5" cy="1478.8" r="10.5"/>
<circle cx="1363.7" cy="1476" r="10.5"/>
<circle cx="1367.8" cy="1477.2" r="10.5"/>
<circle cx="1372" cy="1476.5" r="10.5"/>
<circle cx="1376.2" cy="1475.6" r="10.5"/>
<circle cx="1380.3" cy="1478.4" r="10.5"/>
<circle cx="1384.5" cy="1476" r="10.5"/>
<circle cx="1388.7" cy="1473.1" r="10.5"/>
<circle cx="1392.8" cy="1477.7" r="10.5"/>
<circle cx="1397" cy="1475.7" r="10.5"/>
<circle cx="1401.2" cy="1476.1" r="10.5"/>
<circle cx="1405.3" cy="1475.1" r="10.5"/>
<circle cx="1409.5" cy="1475.5" r="10.5"/>
<circle cx="1413.7" cy="1473.9" r="10.5"/>
<circle cx="1417.8" cy="1475.6" r="10.5"/>
<circle cx="1422" cy="1473.5" r="10.5"/>
<circle cx="1426.2" cy="1472.9" r="10.5"/>
<circle cx="1430.3" cy="1472.5" r="10.5"/>
<circle cx="1434.5" cy="1468.5" r="10.5"/>
<circle cx="1438.7" cy="1470.5" r="10.5"/>
<circle cx="1442.8" cy="1469.9" r="10.5"/>
<circle cx="1447" cy="1470.3" r="10.5"/>
<circle cx="1451.2" cy="1466.8" r="10.5"/>
<circle cx="1455.3" cy="1472" r="10.5"/>
<circle cx="1459.5" cy="1468.6" r="10.5"/>
<circle cx="1463.7" cy="1465.7" r="10.5"/>
<circle cx="1467.8" cy="1464.4" r="10.5"/>
<circle cx="1472" cy="1466.8" r="10.5"/>
<circle cx="1476.2" cy="1467" r="10.5"/>
<circle cx="1480.3" cy="1465.7" r="10.5"/>
<circle cx="1484.5" cy="1467.2" r="10.5"/>
<circle cx="1488.7" cy="1465.9" r="10.5"/>
<circle cx="1492.8" cy="1468.2" r="10.5"/>
<circle cx="1497" cy="1466" r="10.5"/>
<circle cx="1501.2" cy="1467.5" r="10.5"/>
<circle cx="1505.3" cy="1469.6" r="10.5"/>
<circle cx="1509.5" cy="1472.9" r="10.5"/>
<circle cx="1513.7" cy="1466.4" r="10.5"/>
<circle cx="1517.8" cy="1467.8" r="10.5"/>
<circle cx="1522" cy="1467.6" r="10.5"/>
<circle cx="1526.2" cy="1471.2" r="10.5"/>
<circle cx="1530.3" cy="1468.1" r="10.5"/>
<circle cx="1534.5" cy="1470" r="10.5"/>
<circle cx="1538.7" cy="1471.5" r="10.5"/>
<circle cx="1542.8" cy="1470.3" r="10.5"/>
<circle cx="1547" cy="1471" r="10.5"/>
<circle cx="1551.2" cy="1472.6" r="10.5"/>
<circle cx="1555.3" cy="1470.2" r="10.5"/>
<circle cx="1559.5" cy="1472.3" r="10.5"/>
<circle cx="1563.7" cy="1475.1" r="10.5"/>
<circle cx="1567.8" cy="1477.1" r="10.5"/>
<circle cx="1572" cy="1477.3" r="10.5"/>
<circle cx="1576.2" cy="1475.2" r="10.5"/>
<circle cx="1580.3" cy="1478.5" r="10.5"/>
<circle cx="1584.5" cy="1481.7" r="10.5"/>
<circle cx="1588.7" cy="1481.9" r="10.5"/>
<circle cx="1592.8" cy="1481.3" r="10.5"/>
<circle cx="1597" cy="1480.2" r="10.5"/>
<circle cx="1601.2" cy="1483.6" r="10.5"/>
<circle cx="1605.3" cy="1481.7" r="10.5"/>
<circle cx="1609.5" cy="1481" r="10.5"/>
<circle cx="1613.7" cy="1482" r="10.5"/>
<circle cx="1617.8" cy="1486.7" r="10.5"/>
<circle cx="1622" cy="1484.7" r="10.5"/>
<circle cx="1626.2" cy="1486.9" r="10.5"/>
<circle cx="1630.3" cy="1484.1" r="10.5"/>
<circle cx="1634.5" cy="1487.2" r="10.5"/>
<circle cx="1638.7" cy="1484.8" r="10.5"/>
<circle cx="1642.8" cy="1486.2" r="10.5"/>
<circle cx="1647" cy="1491.7" r="10.5"/>
<circle cx="1651.2" cy="1489" r="10.5"/>
<circle cx="1655.3" cy="1487.1" r="10.5"/>
<circle cx="1659.5" cy="1488.4" r="10.5"/>
<circle cx="1663.7" cy="1489.6" r="10.5"/>
<circle cx="1667.8" cy="1491.6" r="10.5"/>
<circle cx="1672" cy="1488.5" r="10.5"/>
<circle cx="1676.2" cy="1486.2" r="10.5"/>
<circle cx="1680.3" cy="1488.9" r="10.5"/>
<circle cx="1684.5" cy="1489.2" r="10.5"/>
<circle cx="1688.7" cy="1489.2" r="10.5"/>
<circle cx="1692.8" cy="1491.2" r="10.5"/>
<circle cx="1697" cy="1488.9" r="10.5"/>
<circle cx="1701.2" cy="1489.4" r="10.5"/>
<circle cx="1705.3" cy="1485.1" r="10.5"/>
<circle cx="1709.5" cy="1488.1" r="10.5"/>
<circle cx="1713.7" cy="1489.7" r="10.5"/>
<circle cx="1717.8" cy="1486.5" r="10.5"/>
<circle cx="1722" cy="1484.9" r="10.5"/>
<circle cx="1726.2" cy="1484.2" r="10.5"/>
<circle cx="1730.3" cy="1486.7" r="10.5"/>
<circle cx="1734.5" cy="1480.9" r="10.5"/>
<circle cx="1738.7" cy="1481.9" r="10.5"/>
<circle cx="1742.8" cy="1482.2" r="10.5"/>
<circle cx="1747" cy="1482" r="10.5"/>
<circle cx="1751.1" cy="1478.8" r="10.5"/>
<circle cx="1755.3" cy="1479.1" r="10.5"/>
<circle cx="1759.5" cy="1476.8" r="10.5"/>
<circle cx="1763.6" cy="1476.1" r="10.5"/>
<circle cx="1767.8" cy="1474" r="10.5"/>
<circle cx="1772" cy="1470.3" r="10.5"/>
<circle cx="1776.1" cy="1470.4" r="10.5"/>
<circle cx="1780.3" cy="1469.9" r="10.5"/>
<circle cx="1784.5" cy="1463.9" r="10.5"/>
<circle cx="1788.6" cy="1462.5" r="10.5"/>
<circle cx="1792.8" cy="1461.2" r="10.5"/>
<circle cx="1797" cy="1454.7" r="10.5"/>
<circle cx="1801.1" cy="1453.5" r="10.5"/>
<circle cx="1805.3" cy="1447.2" r="10.5"/>
<circle cx="1809.5" cy="1446.7" r="10.5"/>
<circle cx="1813.6" cy="1443.9" r="10.5"/>
<circle cx="1817.8" cy="1438.2" r="10.5"/>
<circle cx="1822" cy="1428.7" r="10.5"/>
<circle cx="1826.1" cy="1424.4" r="10.5"/>
<circle cx="1830.3" cy="1416" r="10.5"/>
<circle cx="1834.5" cy="1407.7" r="10.5"/>
<circle cx="1838.6" cy="1400" r="10.5"/>
<circle cx="1842.8" cy="1382.5" r="10.5"/>
<circle cx="1847" cy="1374.9" r="10.5"/>
<circle cx="1851.1" cy="1360" r="10.5"/>
<circle cx="1855.3" cy="1347.5" r="10.5"/>
<circle cx="1859.5" cy="1327.9" r="10.5"/>
<circle cx="1863.6" cy="1309.2" r="10.5"/>
<circle cx="1867.8" cy="1294.6" r="10.5"/>
<circle cx="1872" cy="1277.2" r="10.5"/>
<circle cx="1876.1" cy="1257.1" r="10.5"/>
<circle cx="1880.3" cy="1238.2" r="10.5"/>
<circle cx="1884.5" cy="1216.3" r="10.5"/>
<circle cx="1888.6" cy="1193.9" r="10.5"/>
<circle cx="1892.8" cy="1179.4" r="10.5"/>
<circle cx="1897" cy="1156.5" r="10.5"/>
<circle cx="1901.1" cy="1134.9" r="10.5"/>
<circle cx="1905.3" cy="1115.5" r="10.5"/>
<circle cx="1909.5" cy="1096.9" r="10.5"/>
<circle cx="1913.6" cy="1075.7" r="10.5"/>
<circle cx="1917.8" cy="1055.6" r="10.5"/>
<circle cx="1922" cy="1036.8" r="10.5"/>
<circle cx="1926.1" cy="1025.9" r="10.5"/>
<circle cx="1930.3" cy="1012.3" r="10.5"/>
<circle cx="1934.5" cy="1011" r="10.5"/>
<circle cx="1938.6" cy="1003.4" r="10.5"/>
<circle cx="1942.8" cy="1000.2" r="10.5"/>
<circle cx="1947" cy="1004.4" r="10.5"/>
<circle cx="1951.1" cy="1003.9" r="10.5"/>
<circle cx="1955.3" cy="1006.2" r="10.5"/>
<circle cx="1959.5" cy="1017.5" r="10.5"/>
<circle cx="1963.6" cy="1035.5" r="10.5"/>
<circle cx="1967.8" cy="1055.4" r="10.5"/>
<circle cx="1972" cy="1074.2" r="10.5"/>
<circle cx="1976.1" cy="1098.8" r="10.5"/>
<circle cx="1980.3" cy="1124.9" r="10.5"/>
<circle cx="1984.5" cy="1144.9" r="10.5"/>
<circle cx="1988.6" cy="1165.8" r="10.5"/>
<circle cx="1992.8" cy="1187.3" r="10.5"/>
<circle cx="1997" cy="1208.5" r="10.5"/>
<circle cx="2001.1" cy="1230.3" r="10.5"/>
<circle cx="2005.3" cy="1257.9" r="10.5"/>
<circle cx="2009.5" cy="1283.2" r="10.5"/>
<circle cx="2013.6" cy="1302.3" r="10.5"/>
<circle cx="2017.8" cy="1320.2" r="10.5"/>
<circle cx="2022" cy="1340.5" r="10.5"/>
<circle cx="2026.1" cy="1354.1" r="10.5"/>
<circle cx="2030.3" cy="1369.3" r="10.5"/>
<circle cx="2034.5" cy="1382.4" r="10.5"/>
<circle cx="2038.6" cy="1392.1" r="10.5"/>
<circle cx="2042.8" cy="1404.9" r="10.5"/>
<circle cx="2047" cy="1407.5" r="10.5"/>
<circle cx="2051.1" cy="1418.1" r="10.5"/>
<circle cx="2055.3" cy="1422.8" r="10.5"/>
<circle cx="2059.5" cy="1433.3" r="10.5"/>
<circle cx="2063.6" cy="1439.1" r="10.5"/>
<circle cx="2067.8" cy="1438" r="10.5"/>
<circle cx="2072" cy="1444.8" r="10.5"/>
<circle cx="2076.1" cy="1451.5" r="10.5"/>
<circle cx="2080.3" cy="1454.4" r="10.5"/>
<circle cx="2084.5" cy="1456.3" r="10.5"/>
<circle cx="2088.6" cy="1456.2" r="10.5"/>
<circle cx="2092.8" cy="1458.3" r="10.5"/>
<circle cx="2097" cy="1459.3" r="10.5"/>
<circle cx="2101.1" cy="1458" r="10.5"/>
<circle cx="2105.3" cy="1459.9" r="10.5"/>
<circle cx="2109.5" cy="1453.2" r="10.5"/>
<circle cx="2113.6" cy="1458.1" r="10.5"/>
<circle cx="2117.8" cy="1454.3" r="10.5"/>
<circle cx="2122" cy="1457.3" r="10.5"/>
<circle cx="2126.1" cy="1454.2" r="10.5"/>
<circle cx="2130.3" cy="1452" r="10.5"/>
<circle cx="2134.5" cy="1453.3" r="10.5"/>
<circle cx="2138.6" cy="1449.7" r="10.5"/>
<circle cx="2142.8" cy="1448.3" r="10.5"/>
<circle cx="2147" cy="1445.6" r="10.5"/>
<circle cx="2151.1" cy="1446.7" r="10.5"/>
<circle cx="2155.3" cy="1445.6" r="10.5"/>
<circle cx="2159.5" cy="1444.3" r="10.5"/>
<circle cx="2163.6" cy="1439.5" r="10.5"/>
<circle cx="2167.8" cy="1438.9" r="10.5"/>
<circle cx="2172" cy="1433.9" r="10.5"/>
<circle cx="2176.1" cy="1430.7" r="10.5"/>
<circle cx="2180.3" cy="1429" r="10.5"/>
<circle cx="2184.5" cy="1426.9" r="10.5"/>
<circle cx="2188.6" cy="1421.4" r="10.5"/>
<circle cx="2192.8" cy="1418.8" r="10.5"/>
<circle cx="2197" cy="1416.2" r="10.5"/>
<circle cx="2201.1" cy="1414" r="10.5"/>
<circle cx="2205.3" cy="1409.8" r="10.5"/>
<circle cx="2209.5" cy="1411.5" r="10.5"/>
<circle cx="2213.6" cy="1407.3" r="10.5"/>
<circle cx="2217.8" cy="1407.6" r="10.5"/>
<circle cx="2222" cy="1404.2" r="10.5"/>
<circle cx="2226.1" cy="1405.7" r="10.5"/>
<circle cx="2230.3" cy="1405.2" r="10.5"/>
<circle cx="2234.5" cy="1403.2" r="10.5"/>
<circle cx="2238.6" cy="1407.6" r="10.5"/>
<circle cx="2242.8" cy="1404.9" r="10.5"/>
<circle cx="2247" cy="1408.6" r="10.5"/>
<circle cx="2251.1" cy="1408.6" r="10.5"/>
<circle cx="2255.3" cy="1407.4" r="10.5"/>
<circle cx="2259.5" cy="1410.2" r="10.5"/>
<circle cx="2263.6" cy="1414.6" r="10.5"/>
<circle cx="2267.8" cy="1417.1" r="10.5"/>
<circle cx="2272" cy="1420.5" r="10.5"/>
<circle cx="2276.1" cy="1423.4" r="10.5"/>
<circle cx="2280.3" cy="1424.3" r="10.5"/>
<circle cx="2284.5" cy="1431.2" r="10.5"/>
<circle cx="2288.6" cy="1431.2" r="10.5"/>
<circle cx="2292.8" cy="1439.8" r="10.5"/>
<circle cx="2297" cy="1441.4" r="10.5"/>
<circle cx="2301.1" cy="1445.3" r="10.5"/>
<circle cx="2305.3" cy="1450.2" r="10.5"/>
<circle cx="2309.5" cy="1455.4" r="10.5"/>
<circle cx="2313.6" cy="1456.4" r="10.5"/>
<circle cx="2317.8" cy="1459.8" r="10.5"/>
<circle cx="2322" cy="1465.1" r="10.5"/>
<circle cx="2326.1" cy="1467.1" r="10.5"/>
<circle cx="2330.3" cy="1472.7" r="10.5"/>
<circle cx="2334.5" cy="1481" r="10.5"/>
<circle cx="2338.6" cy="1479.1" r="10.5"/>
<circle cx="2342.8" cy="1485.3" r="10.5"/>
<circle cx="2347" cy="1484.2" r="10.5"/>
<circle cx="2351.1" cy="1489.8" r="10.5"/>
<circle cx="2355.3" cy="1490.9" r="10.5"/>
<circle cx="2359.5" cy="1493.4" r="10.5"/>
<circle cx="2363.6" cy="1496.5" r="10.5"/>
<circle cx="2367.8" cy="1500.6" r="10.5"/>
<circle cx="2372" cy="1499.3" r="10.5"/>
<circle cx="2376.1" cy="1500.8" r="10.5"/>
<circle cx="2380.3" cy="1500.3" r="10.5"/>
<circle cx="2384.5" cy="1504.8" r="10.5"/>
<circle cx="2388.6" cy="1504.8" r="10.5"/>
<circle cx="2392.8" cy="1508.2" r="10.5"/>
<circle cx="2397" cy="1507.7" r="10.5"/>
<circle cx="2401.1" cy="1512.1" r="10.5"/>
<circle cx="2405.3" cy="1505.8" r="10.5"/>
</g></g>
<line x1="112.0" y1="763.6" x2="1195.5" y2="763.6" stroke="#bdbdbd" stroke-width="4.6"/>
<path d="M112,763.6 L114,763.6 L116,763.6 L118,763.6 L120,763.6 L122,763.6 L124,763.6 L126,763.6 L128,763.6 L130,763.6 L132,763.6 L134,763.6 L136,763.6 L138,763.6 L140,763.6 L142,763.6 L144,763.6 L146,763.6 L148,763.6 L150,763.6 L152,763.6 L154,763.6 L156,763.6 L158,763.5 L160,763.5 L162,763.5 L164,763.5 L166,763.5 L168,763.5 L170,763.5 L172,763.5 L174,763.5 L176,763.5 L178,763.4 L180,763.4 L182,763.4 L184,763.4 L186,763.4 L188,763.3 L190,763.3 L192,763.3 L194,763.3 L196,763.2 L198,763.2 L200,763.2 L202,763.1 L204,763.1 L206,763 L208,763 L210,762.9 L212,762.9 L214,762.8 L216,762.8 L218,762.7 L220,762.6 L222,762.5 L224,762.4 L226,762.4 L228,762.3 L230,762.2 L232,762 L234,761.9 L236,761.8 L238,761.7 L240,761.5 L242,761.4 L244,761.3 L246,761.1 L248,760.9 L250,760.8 L252,760.6 L254,760.4 L256,760.2 L258,760 L260,759.8 L262,759.5 L264,759.3 L266,759 L268,758.8 L270,758.5 L272,758.3 L274,758 L276,757.7 L278,757.4 L280,757.1 L282,756.8 L284,756.4 L286,756.1 L288,755.8 L290,755.4 L292,755.1 L294,754.7 L296,754.3 L298,754 L300,753.6 L302,753.2 L304,752.8 L306,752.4 L308,752 L310,751.6 L312,751.2 L314,750.8 L316,750.5 L318,750.1 L320,749.7 L322,749.3 L324,748.9 L326,748.5 L328,748.1 L330,747.8 L332,747.4 L334,747 L336,746.7 L338,746.4 L340,746 L342,745.7 L344,745.4 L346,745.1 L348,744.8 L350,744.6 L352,744.3 L354,744.1 L356,743.9 L358,743.7 L360,743.5 L362,743.4 L364,743.2 L366,743.1 L368,743 L370,742.9 L372,742.9 L374,742.8 L376,742.8 L378,742.8 L380,742.8 L382,742.9 L384,742.9 L386,743 L388,743.1 L390,743.2 L392,743.4 L394,743.5 L396,743.7 L398,743.9 L400,744.1 L402,744.3 L404,744.6 L406,744.8 L408,745.1 L410,745.4 L412,745.7 L414,746 L416,746.4 L418,746.7 L420,747 L422,747.4 L424,747.8 L426,748.1 L428,748.5 L430,748.9 L432,749.3 L434,749.7 L436,750.1 L438,750.5 L440,750.8 L442,751.2 L444,751.6 L446,752 L448,752.4 L450,752.8 L452,753.2 L454,753.6 L456,754 L458,754.3 L460,754.7 L462,755.1 L464,755.4 L466,755.8 L468,756.1 L470,756.4 L472,756.8 L474,757.1 L476,757.4 L478,757.7 L480,758 L482,758.3 L484,758.5 L486,758.8 L488,759 L490,759.3 L492,759.5 L494,759.8 L496,760 L498,760.2 L500,760.4 L502,760.6 L504,760.8 L506,760.9 L508,761.1 L510,761.3 L512,761.4 L514,761.5 L516,761.7 L518,761.8 L520,761.9 L522,762 L524,762.2 L526,762.3 L528,762.3 L530,762.4 L532,762.5 L534,762.6 L536,762.7 L538,762.7 L540,762.8 L542,762.9 L544,762.9 L546,763 L548,763 L550,763.1 L552,763.1 L554,763.2 L556,763.2 L558,763.2 L560,763.3 L562,763.3 L564,763.3 L566,763.3 L568,763.4 L570,763.4 L572,763.4 L574,763.4 L576,763.4 L578,763.5 L580,763.5 L582,763.5 L584,763.5 L586,763.5 L588,763.5 L590,763.5 L592,763.5 L594,763.5 L596,763.5 L598,763.6 L600,763.6 L602,763.6 L604,763.6 L606,763.6 L608,763.6 L610,763.6 L612,763.6 L614,763.6 L616,763.6 L618,763.6 L620,763.6 L622,763.6 L624,763.6 L626,763.6 L628,763.6 L630,763.6 L632,763.6 L634,763.6 L636,763.6 L638,763.6 L640,763.6 L642,763.6 L644,763.6 L646,763.6 L648,763.6 L650,763.6 L652,763.6 L654,763.6 L656,763.6 L658,763.6 L660,763.6 L662,763.6 L664,763.6 L666,763.6 L668,763.6 L670,763.6 L672,763.6 L674,763.6 L676,763.6 L678,763.6 L680,763.6 L682,763.6 L684,763.6 L686,763.6 L688,763.6 L690,763.6 L692,763.6 L694,763.6 L696,763.6 L698,763.6 L700,763.6 L702,763.6 L704,763.6 L706,763.6 L708,763.6 L710,763.6 L712,763.6 L714,763.6 L716,763.6 L718,763.6 L720,763.6 L722,763.6 L724,763.6 L726,763.6 L728,763.6 L730,763.6 L732,763.6 L734,763.6 L736,763.6 L738,763.6 L740,763.6 L742,763.6 L744,763.6 L746,763.6 L748,763.6 L750,763.6 L752,763.6 L754,763.6 L756,763.6 L758,763.6 L760,763.6 L762,763.6 L764,763.6 L766,763.6 L768,763.6 L770,763.6 L772,763.6 L774,763.6 L776,763.6 L778,763.6 L780,763.6 L782,763.6 L784,763.6 L786,763.6 L788,763.6 L790,763.6 L792,763.6 L794,763.6 L796,763.6 L798,763.6 L800,763.6 L802,763.6 L804,763.6 L806,763.6 L808,763.6 L810,763.6 L812,763.6 L814,763.6 L816,763.6 L818,763.6 L820,763.6 L822,763.6 L824,763.6 L826,763.6 L828,763.6 L830,763.6 L832,763.6 L834,763.6 L836,763.6 L838,763.6 L840,763.6 L842,763.6 L844,763.6 L846,763.6 L848,763.6 L850,763.6 L852,763.6 L854,763.6 L856,763.6 L858,763.6 L860,763.6 L862,763.6 L864,763.6 L866,763.6 L868,763.6 L870,763.6 L872,763.6 L874,763.6 L876,763.6 L878,763.6 L880,763.6 L882,763.6 L884,763.6 L886,763.6 L888,763.6 L890,763.6 L892,763.6 L894,763.6 L896,763.6 L898,763.6 L900,763.6 L902,763.6 L904,763.6 L906,763.6 L908,763.6 L910,763.6 L912,763.6 L914,763.6 L916,763.6 L918,763.6 L920,763.6 L922,763.6 L924,763.6 L926,763.6 L928,763.6 L930,763.6 L932,763.6 L934,763.6 L936,763.6 L938,763.6 L940,763.6 L942,763.6 L944,763.6 L946,763.6 L948,763.6 L950,763.6 L952,763.6 L954,763.6 L956,763.6 L958,763.6 L960,763.6 L962,763.6 L964,763.6 L966,763.6 L968,763.6 L970,763.6 L972,763.6 L974,763.6 L976,763.6 L978,763.6 L980,763.6 L982,763.6 L984,763.6 L986,763.6 L988,763.6 L990,763.6 L992,763.6 L994,763.6 L996,763.6 L998,763.6 L1000,763.6 L1002,763.6 L1004,763.6 L1006,763.6 L1008,763.6 L1010,763.6 L1012,763.6 L1014,763.6 L1016,763.6 L1018,763.6 L1020,763.6 L1022,763.6 L1024,763.6 L1026,763.6 L1028,763.6 L1030,763.6 L1032,763.6 L1034,763.6 L1036,763.6 L1038,763.6 L1040,763.6 L1042,763.6 L1044,763.6 L1046,763.6 L1048,763.6 L1050,763.6 L1052,763.6 L1054,763.6 L1056,763.6 L1058,763.6 L1060,763.6 L1062,763.6 L1064,763.6 L1066,763.6 L1068,763.6 L1070,763.6 L1072,763.6 L1074,763.6 L1076,763.6 L1078,763.6 L1080,763.6 L1082,763.6 L1084,763.6 L1086,763.6 L1088,763.6 L1090,763.6 L1092,763.6 L1094,763.6 L1096,763.6 L1098,763.6 L1100,763.6 L1102,763.6 L1104,763.6 L1106,763.6 L1108,763.6 L1110,763.6 L1112,763.6 L1114,763.6 L1116,763.6 L1118,763.6 L1120,763.6 L1122,763.6 L1124,763.6 L1126,763.6 L1128,763.6 L1130,763.6 L1132,763.6 L1134,763.6 L1136,763.6 L1138,763.6 L1140,763.6 L1142,763.6 L1144,763.6 L1146,763.6 L1148,763.6 L1150,763.6 L1152,763.6 L1154,763.6 L1156,763.6 L1158,763.6 L1160,763.6 L1162,763.6 L1164,763.6 L1166,763.6 L1168,763.6 L1170,763.6 L1172,763.6 L1174,763.6 L1176,763.6 L1178,763.6 L1180,763.6 L1182,763.6 L1184,763.6 L1186,763.6 L1188,763.6 L1190,763.6 L1192,763.6 L1194,763.6" fill="none" stroke="#bdbdbd" stroke-width="3.8" stroke-linejoin="round" stroke-linecap="butt"/>
<path d="M467,763.6 L469,763.6 L471,763.6 L473,763.6 L475,763.6 L477,763.5 L479,763.5 L481,763.5 L483,763.5 L485,763.5 L487,763.5 L489,763.4 L491,763.4 L493,763.4 L495,763.4 L497,763.4 L499,763.3 L501,763.3 L503,763.3 L505,763.2 L507,763.2 L509,763.1 L511,763.1 L513,763 L515,763 L517,762.9 L519,762.8 L521,762.7 L523,762.6 L525,762.5 L527,762.4 L529,762.2 L531,762.1 L533,761.9 L535,761.7 L537,761.5 L539,761.3 L541,761 L543,760.7 L545,760.4 L547,760 L549,759.7 L551,759.2 L553,758.8 L555,758.3 L557,757.7 L559,757.2 L561,756.5 L563,755.8 L565,755.1 L567,754.3 L569,753.4 L571,752.5 L573,751.5 L575,750.5 L577,749.4 L579,748.2 L581,747 L583,745.7 L585,744.4 L587,742.9 L589,741.5 L591,739.9 L593,738.3 L595,736.7 L597,734.9 L599,733.2 L601,731.4 L603,729.6 L605,727.7 L607,725.8 L609,723.9 L611,722 L613,720.1 L615,718.2 L617,716.3 L619,714.4 L621,712.5 L623,710.8 L625,709 L627,707.3 L629,705.7 L631,704.2 L633,702.8 L635,701.5 L637,700.3 L639,699.2 L641,698.3 L643,697.4 L645,696.8 L647,696.2 L649,695.9 L651,695.7 L653,695.6 L655,695.7 L657,696 L659,696.4 L661,696.9 L663,697.7 L665,698.5 L667,699.5 L669,700.6 L671,701.9 L673,703.2 L675,704.7 L677,706.2 L679,707.8 L681,709.5 L683,711.3 L685,713.1 L687,714.9 L689,716.8 L691,718.7 L693,720.6 L695,722.6 L697,724.5 L699,726.4 L701,728.3 L703,730.1 L705,731.9 L707,733.7 L709,735.5 L711,737.2 L713,738.8 L715,740.4 L717,741.9 L719,743.4 L721,744.8 L723,746.1 L725,747.4 L727,748.6 L729,749.8 L731,750.8 L733,751.9 L735,752.8 L737,753.7 L739,754.5 L741,755.3 L743,756 L745,756.7 L747,757.3 L749,757.9 L751,758.4 L753,758.9 L755,759.4 L757,759.8 L759,760.2 L761,760.5 L763,760.8 L765,761.1 L767,761.3 L769,761.6 L771,761.8 L773,762 L775,762.1 L777,762.3 L779,762.4 L781,762.5 L783,762.6 L785,762.7 L787,762.8 L789,762.9 L791,763 L793,763 L795,763.1 L797,763.2 L799,763.2 L801,763.2 L803,763.3 L805,763.3 L807,763.3 L809,763.4 L811,763.4 L813,763.4 L815,763.4 L817,763.5 L819,763.5 L821,763.5 L823,763.5 L825,763.5 L827,763.6 L829,763.6 L831,763.6 L833,763.6 L835,763.6" fill="none" stroke="#0f8a1a" stroke-width="6.1" stroke-linejoin="round" stroke-linecap="butt"/>
<path d="M560,763.6 L562,763.6 L564,763.6 L566,763.5 L568,763.5 L570,763.5 L572,763.4 L574,763.4 L576,763.4 L578,763.3 L580,763.3 L582,763.2 L584,763.2 L586,763.1 L588,763.1 L590,763 L592,762.9 L594,762.8 L596,762.7 L598,762.6 L600,762.4 L602,762.3 L604,762.1 L606,762 L608,761.8 L610,761.5 L612,761.3 L614,761 L616,760.7 L618,760.4 L620,760 L622,759.6 L624,759.2 L626,758.7 L628,758.2 L630,757.6 L632,757 L634,756.3 L636,755.6 L638,754.8 L640,754 L642,753.1 L644,752.1 L646,751 L648,749.9 L650,748.7 L652,747.5 L654,746.2 L656,744.7 L658,743.3 L660,741.7 L662,740.1 L664,738.4 L666,736.6 L668,734.8 L670,732.9 L672,731 L674,729 L676,726.9 L678,724.8 L680,722.7 L682,720.5 L684,718.3 L686,716.1 L688,714 L690,711.8 L692,709.6 L694,707.5 L696,705.4 L698,703.3 L700,701.3 L702,699.4 L704,697.6 L706,695.9 L708,694.2 L710,692.7 L712,691.4 L714,690.1 L716,689 L718,688.1 L720,687.3 L722,686.7 L724,686.3 L726,686.1 L728,686 L730,686.1 L732,686.4 L734,686.9 L736,687.5 L738,688.4 L740,689.3 L742,690.5 L744,691.7 L746,693.2 L748,694.7 L750,696.4 L752,698.1 L754,700 L756,701.9 L758,703.9 L760,706 L762,708.1 L764,710.2 L766,712.4 L768,714.6 L770,716.8 L772,719 L774,721.1 L776,723.3 L778,725.4 L780,727.5 L782,729.5 L784,731.5 L786,733.4 L788,735.3 L790,737.1 L792,738.9 L794,740.5 L796,742.1 L798,743.7 L800,745.1 L802,746.5 L804,747.8 L806,749 L808,750.2 L810,751.3 L812,752.3 L814,753.3 L816,754.2 L818,755 L820,755.8 L822,756.5 L824,757.1 L826,757.7 L828,758.3 L830,758.8 L832,759.3 L834,759.7 L836,760.1 L838,760.4 L840,760.7 L842,761 L844,761.3 L846,761.5 L848,761.7 L850,761.9 L852,762.1 L854,762.2 L856,762.4 L858,762.5 L860,762.6 L862,762.7 L864,762.8 L866,762.9 L868,763 L870,763 L872,763.1 L874,763.1 L876,763.2 L878,763.2 L880,763.3 L882,763.3 L884,763.3 L886,763.4 L888,763.4 L890,763.4 L892,763.4 L894,763.5 L896,763.5 L898,763.5 L900,763.5 L902,763.5 L904,763.5 L906,763.6 L908,763.6 L910,763.6 L912,763.6 L914,763.6" fill="none" stroke="#e0141c" stroke-width="6.1" stroke-linejoin="round" stroke-linecap="butt"/>
<path d="M640,763.6 L642,763.6 L644,763.5 L646,763.5 L648,763.4 L650,763.4 L652,763.3 L654,763.3 L656,763.2 L658,763.1 L660,763.1 L662,763 L664,762.9 L666,762.8 L668,762.6 L670,762.5 L672,762.4 L674,762.2 L676,762 L678,761.8 L680,761.6 L682,761.4 L684,761.1 L686,760.8 L688,760.5 L690,760.2 L692,759.8 L694,759.4 L696,759 L698,758.5 L700,758 L702,757.5 L704,756.9 L706,756.3 L708,755.6 L710,754.9 L712,754.1 L714,753.3 L716,752.5 L718,751.6 L720,750.6 L722,749.6 L724,748.5 L726,747.4 L728,746.3 L730,745.1 L732,743.8 L734,742.5 L736,741.2 L738,739.8 L740,738.3 L742,736.9 L744,735.4 L746,733.8 L748,732.3 L750,730.7 L752,729.1 L754,727.5 L756,725.9 L758,724.3 L760,722.7 L762,721.1 L764,719.5 L766,717.9 L768,716.4 L770,715 L772,713.5 L774,712.2 L776,710.9 L778,709.6 L780,708.5 L782,707.4 L784,706.4 L786,705.6 L788,704.8 L790,704.1 L792,703.6 L794,703.2 L796,702.9 L798,702.7 L800,702.6 L802,702.7 L804,702.8 L806,703.2 L808,703.6 L810,704.1 L812,704.8 L814,705.6 L816,706.4 L818,707.4 L820,708.5 L822,709.6 L824,710.8 L826,712.1 L828,713.5 L830,714.9 L832,716.4 L834,717.9 L836,719.5 L838,721 L840,722.6 L842,724.2 L844,725.8 L846,727.4 L848,729.1 L850,730.7 L852,732.2 L854,733.8 L856,735.3 L858,736.8 L860,738.3 L862,739.7 L864,741.1 L866,742.5 L868,743.8 L870,745 L872,746.2 L874,747.4 L876,748.5 L878,749.5 L880,750.5 L882,751.5 L884,752.4 L886,753.2 L888,754 L890,754.8 L892,755.5 L894,756.2 L896,756.8 L898,757.4 L900,757.9 L902,758.4 L904,758.9 L906,759.3 L908,759.7 L910,760.1 L912,760.4 L914,760.7 L916,761 L918,761.2 L920,761.5 L922,761.7 L924,761.9 L926,762.1 L928,762.2 L930,762.4 L932,762.5 L934,762.6 L936,762.7 L938,762.8 L940,762.9 L942,763 L944,763.1 L946,763.1 L948,763.2 L950,763.2 L952,763.3 L954,763.3 L956,763.4 L958,763.4 L960,763.4 L962,763.5 L964,763.5 L966,763.5 L968,763.5 L970,763.6 L972,763.6 L974,763.6" fill="none" stroke="#1010dc" stroke-width="6.1" stroke-linejoin="round" stroke-linecap="butt"/>
<path d="M112,763.6 L114,763.6 L116,763.6 L118,763.6 L120,763.6 L122,763.6 L124,763.6 L126,763.6 L128,763.6 L130,763.6 L132,763.6 L134,763.6 L136,763.6 L138,763.6 L140,763.6 L142,763.6 L144,763.6 L146,763.6 L148,763.6 L150,763.6 L152,763.6 L154,763.6 L156,763.6 L158,763.6 L160,763.6 L162,763.6 L164,763.6 L166,763.6 L168,763.6 L170,763.6 L172,763.6 L174,763.6 L176,763.6 L178,763.6 L180,763.6 L182,763.6 L184,763.6 L186,763.6 L188,763.6 L190,763.6 L192,763.6 L194,763.6 L196,763.6 L198,763.6 L200,763.6 L202,763.6 L204,763.6 L206,763.6 L208,763.6 L210,763.6 L212,763.6 L214,763.6 L216,763.6 L218,763.6 L220,763.6 L222,763.6 L224,763.6 L226,763.6 L228,763.6 L230,763.6 L232,763.6 L234,763.6 L236,763.6 L238,763.6 L240,763.6 L242,763.6 L244,763.6 L246,763.6 L248,763.6 L250,763.6 L252,763.6 L254,763.6 L256,763.6 L258,763.6 L260,763.6 L262,763.6 L264,763.6 L266,763.6 L268,763.6 L270,763.6 L272,763.6 L274,763.6 L276,763.6 L278,763.6 L280,763.6 L282,763.6 L284,763.6 L286,763.6 L288,763.6 L290,763.6 L292,763.6 L294,763.6 L296,763.6 L298,763.6 L300,763.6 L302,763.6 L304,763.6 L306,763.6 L308,763.6 L310,763.6 L312,763.6 L314,763.6 L316,763.6 L318,763.6 L320,763.6 L322,763.6 L324,763.6 L326,763.6 L328,763.6 L330,763.6 L332,763.6 L334,763.6 L336,763.6 L338,763.6 L340,763.6 L342,763.6 L344,763.6 L346,763.6 L348,763.6 L350,763.6 L352,763.5 L354,763.5 L356,763.5 L358,763.5 L360,763.5 L362,763.5 L364,763.5 L366,763.5 L368,763.5 L370,763.5 L372,763.5 L374,763.5 L376,763.5 L378,763.5 L380,763.5 L382,763.5 L384,763.5 L386,763.5 L388,763.5 L390,763.5 L392,763.5 L394,763.5 L396,763.5 L398,763.5 L400,763.5 L402,763.5 L404,763.5 L406,763.4 L408,763.4 L410,763.4 L412,763.4 L414,763.4 L416,763.4 L418,763.4 L420,763.4 L422,763.4 L424,763.4 L426,763.4 L428,763.4 L430,763.4 L432,763.4 L434,763.4 L436,763.4 L438,763.4 L440,763.4 L442,763.3 L444,763.3 L446,763.3 L448,763.3 L450,763.3 L452,763.3 L454,763.3 L456,763.3 L458,763.3 L460,763.3 L462,763.3 L464,763.3 L466,763.3 L468,763.2 L470,763.2 L472,763.2 L474,763.2 L476,763.2 L478,763.2 L480,763.2 L482,763.2 L484,763.2 L486,763.2 L488,763.1 L490,763.1 L492,763.1 L494,763.1 L496,763.1 L498,763.1 L500,763.1 L502,763.1 L504,763.1 L506,763 L508,763 L510,763 L512,763 L514,763 L516,763 L518,763 L520,762.9 L522,762.9 L524,762.9 L526,762.9 L528,762.9 L530,762.9 L532,762.8 L534,762.8 L536,762.8 L538,762.8 L540,762.8 L542,762.8 L544,762.7 L546,762.7 L548,762.7 L550,762.7 L552,762.7 L554,762.6 L556,762.6 L558,762.6 L560,762.6 L562,762.6 L564,762.5 L566,762.5 L568,762.5 L570,762.5 L572,762.4 L574,762.4 L576,762.4 L578,762.4 L580,762.3 L582,762.3 L584,762.3 L586,762.2 L588,762.2 L590,762.2 L592,762.1 L594,762.1 L596,762.1 L598,762 L600,762 L602,762 L604,761.9 L606,761.9 L608,761.9 L610,761.8 L612,761.8 L614,761.7 L616,761.7 L618,761.7 L620,761.6 L622,761.6 L624,761.5 L626,761.5 L628,761.4 L630,761.4 L632,761.3 L634,761.3 L636,761.2 L638,761.2 L640,761.1 L642,761 L644,761 L646,760.9 L648,760.8 L650,760.8 L652,760.7 L654,760.6 L656,760.6 L658,760.5 L660,760.4 L662,760.3 L664,760.2 L666,760.1 L668,760 L670,759.9 L672,759.8 L674,759.7 L676,759.6 L678,759.5 L680,759.3 L682,759.2 L684,759 L686,758.9 L688,758.7 L690,758.5 L692,758.3 L694,758 L696,757.8 L698,757.5 L700,757.2 L702,756.9 L704,756.6 L706,756.2 L708,755.7 L710,755.3 L712,754.7 L714,754.2 L716,753.5 L718,752.8 L720,752.1 L722,751.2 L724,750.3 L726,749.3 L728,748.2 L730,746.9 L732,745.6 L734,744.1 L736,742.4 L738,740.7 L740,738.7 L742,736.6 L744,734.3 L746,731.7 L748,729 L750,726 L752,722.8 L754,719.3 L756,715.5 L758,711.5 L760,707.1 L762,702.4 L764,697.4 L766,692.1 L768,686.4 L770,680.3 L772,673.9 L774,667 L776,659.8 L778,652.2 L780,644.1 L782,635.7 L784,626.9 L786,617.6 L788,608 L790,598 L792,587.6 L794,576.8 L796,565.7 L798,554.3 L800,542.6 L802,530.5 L804,518.2 L806,505.7 L808,493 L810,480.2 L812,467.2 L814,454.2 L816,441.2 L818,428.1 L820,415.2 L822,402.4 L824,389.7 L826,377.3 L828,365.2 L830,353.5 L832,342.1 L834,331.3 L836,321 L838,311.2 L840,302.1 L842,293.7 L844,286.1 L846,279.3 L848,273.3 L850,268.2 L852,264 L854,260.8 L856,258.5 L858,257.3 L860,257 L862,257.7 L864,259.3 L866,261.7 L868,265 L870,269.1 L872,274.1 L874,279.8 L876,286.3 L878,293.5 L880,301.3 L882,309.8 L884,318.9 L886,328.5 L888,338.6 L890,349.1 L892,360 L894,371.3 L896,382.8 L898,394.6 L900,406.6 L902,418.7 L904,430.9 L906,443.2 L908,455.5 L910,467.7 L912,480 L914,492.1 L916,504 L918,515.9 L920,527.5 L922,538.9 L924,550.1 L926,560.9 L928,571.6 L930,581.9 L932,591.9 L934,601.5 L936,610.9 L938,619.9 L940,628.5 L942,636.8 L944,644.7 L946,652.2 L948,659.4 L950,666.3 L952,672.8 L954,679 L956,684.8 L958,690.3 L960,695.4 L962,700.3 L964,704.9 L966,709.2 L968,713.2 L970,716.9 L972,720.4 L974,723.6 L976,726.6 L978,729.4 L980,732 L982,734.4 L984,736.6 L986,738.7 L988,740.5 L990,742.3 L992,743.9 L994,745.3 L996,746.6 L998,747.9 L1000,749 L1002,750 L1004,751 L1006,751.8 L1008,752.6 L1010,753.3 L1012,754 L1014,754.6 L1016,755.1 L1018,755.6 L1020,756.1 L1022,756.5 L1024,756.9 L1026,757.2 L1028,757.5 L1030,757.8 L1032,758.1 L1034,758.4 L1036,758.6 L1038,758.8 L1040,759 L1042,759.2 L1044,759.4 L1046,759.5 L1048,759.7 L1050,759.8 L1052,760 L1054,760.1 L1056,760.2 L1058,760.3 L1060,760.4 L1062,760.5 L1064,760.6 L1066,760.7 L1068,760.8 L1070,760.9 L1072,761 L1074,761.1 L1076,761.1 L1078,761.2 L1080,761.3 L1082,761.4 L1084,761.4 L1086,761.5 L1088,761.6 L1090,761.6 L1092,761.7 L1094,761.7 L1096,761.8 L1098,761.9 L1100,761.9 L1102,762 L1104,762 L1106,762.1 L1108,762.1 L1110,762.2 L1112,762.2 L1114,762.3 L1116,762.3 L1118,762.4 L1120,762.4 L1122,762.5 L1124,762.5 L1126,762.5 L1128,762.6 L1130,762.6 L1132,762.7 L1134,762.7 L1136,762.7 L1138,762.8 L1140,762.8 L1142,762.9 L1144,762.9 L1146,762.9 L1148,763 L1150,763 L1152,763 L1154,763.1 L1156,763.1 L1158,763.1 L1160,763.1 L1162,763.2 L1164,763.2 L1166,763.2 L1168,763.3 L1170,763.3 L1172,763.3 L1174,763.3 L1176,763.4 L1178,763.4 L1180,763.4 L1182,763.5 L1184,763.5 L1186,763.5 L1188,763.5 L1190,763.6 L1192,763.6 L1194,763.6" fill="none" stroke="#111" stroke-width="6.8" stroke-linejoin="round" stroke-linecap="butt"/>
<line x1="112.0" y1="1512.0" x2="1195.5" y2="1512.0" stroke="#bdbdbd" stroke-width="4.6"/>
<path d="M112,1512 L114,1512 L116,1512 L118,1512 L120,1512 L122,1512 L124,1512 L126,1512 L128,1512 L130,1512 L132,1512 L134,1512 L136,1512 L138,1512 L140,1512 L142,1512 L144,1512 L146,1512 L148,1512 L150,1512 L152,1512 L154,1512 L156,1512 L158,1512 L160,1512 L162,1512 L164,1512 L166,1512 L168,1512 L170,1512 L172,1512 L174,1511.9 L176,1511.9 L178,1511.9 L180,1511.9 L182,1511.9 L184,1511.9 L186,1511.9 L188,1511.9 L190,1511.9 L192,1511.9 L194,1511.8 L196,1511.8 L198,1511.8 L200,1511.8 L202,1511.8 L204,1511.8 L206,1511.7 L208,1511.7 L210,1511.7 L212,1511.7 L214,1511.6 L216,1511.6 L218,1511.5 L220,1511.5 L222,1511.5 L224,1511.4 L226,1511.4 L228,1511.3 L230,1511.3 L232,1511.2 L234,1511.1 L236,1511.1 L238,1511 L240,1510.9 L242,1510.8 L244,1510.7 L246,1510.6 L248,1510.5 L250,1510.4 L252,1510.3 L254,1510.2 L256,1510.1 L258,1509.9 L260,1509.8 L262,1509.7 L264,1509.5 L266,1509.3 L268,1509.2 L270,1509 L272,1508.8 L274,1508.6 L276,1508.4 L278,1508.2 L280,1508 L282,1507.8 L284,1507.6 L286,1507.3 L288,1507.1 L290,1506.8 L292,1506.6 L294,1506.3 L296,1506 L298,1505.7 L300,1505.4 L302,1505.1 L304,1504.8 L306,1504.5 L308,1504.2 L310,1503.9 L312,1503.6 L314,1503.2 L316,1502.9 L318,1502.6 L320,1502.2 L322,1501.9 L324,1501.5 L326,1501.2 L328,1500.8 L330,1500.5 L332,1500.1 L334,1499.8 L336,1499.5 L338,1499.1 L340,1498.8 L342,1498.5 L344,1498.1 L346,1497.8 L348,1497.5 L350,1497.2 L352,1496.9 L354,1496.6 L356,1496.4 L358,1496.1 L360,1495.8 L362,1495.6 L364,1495.4 L366,1495.1 L368,1494.9 L370,1494.8 L372,1494.6 L374,1494.4 L376,1494.3 L378,1494.2 L380,1494.1 L382,1494 L384,1493.9 L386,1493.9 L388,1493.8 L390,1493.8 L392,1493.8 L394,1493.8 L396,1493.9 L398,1493.9 L400,1494 L402,1494.1 L404,1494.2 L406,1494.3 L408,1494.4 L410,1494.6 L412,1494.8 L414,1494.9 L416,1495.1 L418,1495.4 L420,1495.6 L422,1495.8 L424,1496.1 L426,1496.4 L428,1496.6 L430,1496.9 L432,1497.2 L434,1497.5 L436,1497.8 L438,1498.1 L440,1498.5 L442,1498.8 L444,1499.1 L446,1499.5 L448,1499.8 L450,1500.1 L452,1500.5 L454,1500.8 L456,1501.2 L458,1501.5 L460,1501.9 L462,1502.2 L464,1502.6 L466,1502.9 L468,1503.2 L470,1503.6 L472,1503.9 L474,1504.2 L476,1504.5 L478,1504.8 L480,1505.1 L482,1505.4 L484,1505.7 L486,1506 L488,1506.3 L490,1506.6 L492,1506.8 L494,1507.1 L496,1507.3 L498,1507.6 L500,1507.8 L502,1508 L504,1508.2 L506,1508.4 L508,1508.6 L510,1508.8 L512,1509 L514,1509.2 L516,1509.3 L518,1509.5 L520,1509.7 L522,1509.8 L524,1509.9 L526,1510.1 L528,1510.2 L530,1510.3 L532,1510.4 L534,1510.5 L536,1510.6 L538,1510.7 L540,1510.8 L542,1510.9 L544,1511 L546,1511.1 L548,1511.1 L550,1511.2 L552,1511.3 L554,1511.3 L556,1511.4 L558,1511.4 L560,1511.5 L562,1511.5 L564,1511.5 L566,1511.6 L568,1511.6 L570,1511.6 L572,1511.7 L574,1511.7 L576,1511.7 L578,1511.8 L580,1511.8 L582,1511.8 L584,1511.8 L586,1511.8 L588,1511.8 L590,1511.9 L592,1511.9 L594,1511.9 L596,1511.9 L598,1511.9 L600,1511.9 L602,1511.9 L604,1511.9 L606,1511.9 L608,1511.9 L610,1512 L612,1512 L614,1512 L616,1512 L618,1512 L620,1512 L622,1512 L624,1512 L626,1512 L628,1512 L630,1512 L632,1512 L634,1512 L636,1512 L638,1512 L640,1512 L642,1512 L644,1512 L646,1512 L648,1512 L650,1512 L652,1512 L654,1512 L656,1512 L658,1512 L660,1512 L662,1512 L664,1512 L666,1512 L668,1512 L670,1512 L672,1512 L674,1512 L676,1512 L678,1512 L680,1512 L682,1512 L684,1512 L686,1512 L688,1512 L690,1512 L692,1512 L694,1512 L696,1512 L698,1512 L700,1512 L702,1512 L704,1512 L706,1512 L708,1512 L710,1512 L712,1512 L714,1512 L716,1512 L718,1512 L720,1512 L722,1512 L724,1512 L726,1512 L728,1512 L730,1512 L732,1512 L734,1512 L736,1512 L738,1512 L740,1512 L742,1512 L744,1512 L746,1512 L748,1512 L750,1512 L752,1512 L754,1512 L756,1512 L758,1512 L760,1512 L762,1512 L764,1512 L766,1512 L768,1512 L770,1512 L772,1512 L774,1512 L776,1512 L778,1512 L780,1512 L782,1512 L784,1512 L786,1512 L788,1512 L790,1512 L792,1512 L794,1512 L796,1512 L798,1512 L800,1512 L802,1512 L804,1512 L806,1512 L808,1512 L810,1512 L812,1512 L814,1512 L816,1512 L818,1512 L820,1512 L822,1512 L824,1512 L826,1512 L828,1512 L830,1512 L832,1512 L834,1512 L836,1512 L838,1512 L840,1512 L842,1512 L844,1512 L846,1512 L848,1512 L850,1512 L852,1512 L854,1512 L856,1512 L858,1512 L860,1512 L862,1512 L864,1512 L866,1512 L868,1512 L870,1512 L872,1512 L874,1512 L876,1512 L878,1512 L880,1512 L882,1512 L884,1512 L886,1512 L888,1512 L890,1512 L892,1512 L894,1512 L896,1512 L898,1512 L900,1512 L902,1512 L904,1512 L906,1512 L908,1512 L910,1512 L912,1512 L914,1512 L916,1512 L918,1512 L920,1512 L922,1512 L924,1512 L926,1512 L928,1512 L930,1512 L932,1512 L934,1512 L936,1512 L938,1512 L940,1512 L942,1512 L944,1512 L946,1512 L948,1512 L950,1512 L952,1512 L954,1512 L956,1512 L958,1512 L960,1512 L962,1512 L964,1512 L966,1512 L968,1512 L970,1512 L972,1512 L974,1512 L976,1512 L978,1512 L980,1512 L982,1512 L984,1512 L986,1512 L988,1512 L990,1512 L992,1512 L994,1512 L996,1512 L998,1512 L1000,1512 L1002,1512 L1004,1512 L1006,1512 L1008,1512 L1010,1512 L1012,1512 L1014,1512 L1016,1512 L1018,1512 L1020,1512 L1022,1512 L1024,1512 L1026,1512 L1028,1512 L1030,1512 L1032,1512 L1034,1512 L1036,1512 L1038,1512 L1040,1512 L1042,1512 L1044,1512 L1046,1512 L1048,1512 L1050,1512 L1052,1512 L1054,1512 L1056,1512 L1058,1512 L1060,1512 L1062,1512 L1064,1512 L1066,1512 L1068,1512 L1070,1512 L1072,1512 L1074,1512 L1076,1512 L1078,1512 L1080,1512 L1082,1512 L1084,1512 L1086,1512 L1088,1512 L1090,1512 L1092,1512 L1094,1512 L1096,1512 L1098,1512 L1100,1512 L1102,1512 L1104,1512 L1106,1512 L1108,1512 L1110,1512 L1112,1512 L1114,1512 L1116,1512 L1118,1512 L1120,1512 L1122,1512 L1124,1512 L1126,1512 L1128,1512 L1130,1512 L1132,1512 L1134,1512 L1136,1512 L1138,1512 L1140,1512 L1142,1512 L1144,1512 L1146,1512 L1148,1512 L1150,1512 L1152,1512 L1154,1512 L1156,1512 L1158,1512 L1160,1512 L1162,1512 L1164,1512 L1166,1512 L1168,1512 L1170,1512 L1172,1512 L1174,1512 L1176,1512 L1178,1512 L1180,1512 L1182,1512 L1184,1512 L1186,1512 L1188,1512 L1190,1512 L1192,1512 L1194,1512" fill="none" stroke="#bdbdbd" stroke-width="3.8" stroke-linejoin="round" stroke-linecap="butt"/>
<path d="M160,1512 L162,1512 L164,1512 L166,1512 L168,1512 L170,1512 L172,1512 L174,1512 L176,1512 L178,1512 L180,1512 L182,1512 L184,1512 L186,1512 L188,1512 L190,1512 L192,1512 L194,1512 L196,1512 L198,1512 L200,1512 L202,1512 L204,1512 L206,1512 L208,1512 L210,1512 L212,1512 L214,1512 L216,1512 L218,1512 L220,1512 L222,1512 L224,1512 L226,1512 L228,1512 L230,1512 L232,1512 L234,1512 L236,1512 L238,1512 L240,1512 L242,1512 L244,1512 L246,1512 L248,1512 L250,1512 L252,1512 L254,1512 L256,1512 L258,1512 L260,1512 L262,1512 L264,1512 L266,1512 L268,1512 L270,1512 L272,1512 L274,1512 L276,1512 L278,1512 L280,1512 L282,1512 L284,1512 L286,1512 L288,1512 L290,1512 L292,1512 L294,1512 L296,1512 L298,1512 L300,1512 L302,1512 L304,1512 L306,1512 L308,1512 L310,1512 L312,1512 L314,1512 L316,1512 L318,1512 L320,1512 L322,1512 L324,1512 L326,1512 L328,1512 L330,1512 L332,1512 L334,1512 L336,1512 L338,1512 L340,1512 L342,1512 L344,1512 L346,1512 L348,1512 L350,1512 L352,1512 L354,1512 L356,1512 L358,1512 L360,1512 L362,1512 L364,1512 L366,1512 L368,1512 L370,1512 L372,1512 L374,1512 L376,1512 L378,1512 L380,1512 L382,1512 L384,1511.9 L386,1511.9 L388,1511.9 L390,1511.9 L392,1511.9 L394,1511.9 L396,1511.9 L398,1511.9 L400,1511.9 L402,1511.9 L404,1511.9 L406,1511.9 L408,1511.9 L410,1511.9 L412,1511.9 L414,1511.9 L416,1511.9 L418,1511.9 L420,1511.9 L422,1511.9 L424,1511.9 L426,1511.9 L428,1511.9 L430,1511.9 L432,1511.9 L434,1511.9 L436,1511.8 L438,1511.8 L440,1511.8 L442,1511.8 L444,1511.8 L446,1511.8 L448,1511.8 L450,1511.8 L452,1511.8 L454,1511.8 L456,1511.8 L458,1511.8 L460,1511.8 L462,1511.7 L464,1511.7 L466,1511.7 L468,1511.7 L470,1511.7 L472,1511.7 L474,1511.7 L476,1511.6 L478,1511.6 L480,1511.6 L482,1511.6 L484,1511.6 L486,1511.5 L488,1511.5 L490,1511.5 L492,1511.4 L494,1511.4 L496,1511.3 L498,1511.3 L500,1511.2 L502,1511.2 L504,1511.1 L506,1511 L508,1511 L510,1510.9 L512,1510.8 L514,1510.6 L516,1510.5 L518,1510.4 L520,1510.2 L522,1510.1 L524,1509.9 L526,1509.7 L528,1509.5 L530,1509.2 L532,1509 L534,1508.7 L536,1508.4 L538,1508 L540,1507.6 L542,1507.2 L544,1506.8 L546,1506.3 L548,1505.8 L550,1505.3 L552,1504.7 L554,1504.1 L556,1503.4 L558,1502.7 L560,1501.9 L562,1501.1 L564,1500.3 L566,1499.3 L568,1498.4 L570,1497.4 L572,1496.3 L574,1495.2 L576,1494.1 L578,1492.8 L580,1491.6 L582,1490.3 L584,1488.9 L586,1487.5 L588,1486.1 L590,1484.6 L592,1483.1 L594,1481.6 L596,1480 L598,1478.5 L600,1476.9 L602,1475.3 L604,1473.6 L606,1472 L608,1470.4 L610,1468.8 L612,1467.2 L614,1465.7 L616,1464.2 L618,1462.7 L620,1461.3 L622,1459.9 L624,1458.6 L626,1457.3 L628,1456.2 L630,1455.1 L632,1454.1 L634,1453.2 L636,1452.4 L638,1451.7 L640,1451.1 L642,1450.7 L644,1450.3 L646,1450.1 L648,1450 L650,1450 L652,1450.2 L654,1450.5 L656,1450.8 L658,1451.4 L660,1452 L662,1452.7 L664,1453.6 L666,1454.5 L668,1455.5 L670,1456.6 L672,1457.8 L674,1459.1 L676,1460.5 L678,1461.9 L680,1463.3 L682,1464.8 L684,1466.3 L686,1467.9 L688,1469.5 L690,1471.1 L692,1472.7 L694,1474.3 L696,1476 L698,1477.6 L700,1479.2 L702,1480.7 L704,1482.3 L706,1483.8 L708,1485.3 L710,1486.8 L712,1488.2 L714,1489.6 L716,1490.9 L718,1492.2 L720,1493.4 L722,1494.6 L724,1495.7 L726,1496.8 L728,1497.9 L730,1498.9 L732,1499.8 L734,1500.7 L736,1501.5 L738,1502.3 L740,1503.1 L742,1503.8 L744,1504.4 L746,1505 L748,1505.6 L750,1506.1 L752,1506.6 L754,1507.1 L756,1507.5 L758,1507.9 L760,1508.3 L762,1508.6 L764,1508.9 L766,1509.2 L768,1509.5 L770,1509.7 L772,1509.9 L774,1510.1 L776,1510.3 L778,1510.4 L780,1510.6 L782,1510.7 L784,1510.8 L786,1511 L788,1511.1 L790,1511.1 L792,1511.2 L794,1511.3 L796,1511.4 L798,1511.4 L800,1511.5 L802,1511.5 L804,1511.6 L806,1511.6 L808,1511.7 L810,1511.7 L812,1511.7 L814,1511.7 L816,1511.8 L818,1511.8 L820,1511.8 L822,1511.8 L824,1511.9 L826,1511.9 L828,1511.9 L830,1511.9 L832,1511.9 L834,1511.9 L836,1512 L838,1512 L840,1512 L842,1512 L844,1512" fill="none" stroke="#0f8a1a" stroke-width="6.1" stroke-linejoin="round" stroke-linecap="butt"/>
<path d="M440,1512 L442,1512 L444,1512 L446,1512 L448,1512 L450,1512 L452,1512 L454,1512 L456,1512 L458,1512 L460,1511.9 L462,1511.9 L464,1511.9 L466,1511.9 L468,1511.9 L470,1511.9 L472,1511.9 L474,1511.9 L476,1511.9 L478,1511.9 L480,1511.9 L482,1511.9 L484,1511.9 L486,1511.8 L488,1511.8 L490,1511.8 L492,1511.8 L494,1511.8 L496,1511.8 L498,1511.8 L500,1511.8 L502,1511.7 L504,1511.7 L506,1511.7 L508,1511.7 L510,1511.7 L512,1511.7 L514,1511.6 L516,1511.6 L518,1511.6 L520,1511.6 L522,1511.5 L524,1511.5 L526,1511.5 L528,1511.4 L530,1511.4 L532,1511.3 L534,1511.3 L536,1511.2 L538,1511.2 L540,1511.1 L542,1511.1 L544,1511 L546,1510.9 L548,1510.8 L550,1510.7 L552,1510.6 L554,1510.5 L556,1510.4 L558,1510.3 L560,1510.2 L562,1510 L564,1509.8 L566,1509.7 L568,1509.5 L570,1509.3 L572,1509.1 L574,1508.8 L576,1508.6 L578,1508.3 L580,1508 L582,1507.7 L584,1507.3 L586,1507 L588,1506.6 L590,1506.1 L592,1505.7 L594,1505.2 L596,1504.7 L598,1504.2 L600,1503.6 L602,1503 L604,1502.3 L606,1501.6 L608,1500.9 L610,1500.2 L612,1499.3 L614,1498.5 L616,1497.6 L618,1496.7 L620,1495.7 L622,1494.7 L624,1493.6 L626,1492.5 L628,1491.3 L630,1490.1 L632,1488.9 L634,1487.6 L636,1486.3 L638,1484.9 L640,1483.5 L642,1482 L644,1480.5 L646,1478.9 L648,1477.4 L650,1475.8 L652,1474.1 L654,1472.5 L656,1470.8 L658,1469 L660,1467.3 L662,1465.6 L664,1463.8 L666,1462 L668,1460.3 L670,1458.5 L672,1456.7 L674,1455 L676,1453.2 L678,1451.5 L680,1449.8 L682,1448.1 L684,1446.5 L686,1444.9 L688,1443.4 L690,1441.9 L692,1440.5 L694,1439.1 L696,1437.8 L698,1436.6 L700,1435.4 L702,1434.3 L704,1433.3 L706,1432.5 L708,1431.7 L710,1431 L712,1430.4 L714,1429.9 L716,1429.5 L718,1429.2 L720,1429.1 L722,1429 L724,1429.1 L726,1429.2 L728,1429.5 L730,1429.9 L732,1430.4 L734,1431 L736,1431.7 L738,1432.5 L740,1433.4 L742,1434.4 L744,1435.4 L746,1436.6 L748,1437.8 L750,1439.1 L752,1440.5 L754,1441.9 L756,1443.4 L758,1445 L760,1446.5 L762,1448.2 L764,1449.8 L766,1451.5 L768,1453.3 L770,1455 L772,1456.8 L774,1458.5 L776,1460.3 L778,1462.1 L780,1463.9 L782,1465.6 L784,1467.4 L786,1469.1 L788,1470.8 L790,1472.5 L792,1474.2 L794,1475.8 L796,1477.5 L798,1479 L800,1480.6 L802,1482.1 L804,1483.5 L806,1485 L808,1486.3 L810,1487.7 L812,1489 L814,1490.2 L816,1491.4 L818,1492.6 L820,1493.7 L822,1494.8 L824,1495.8 L826,1496.8 L828,1497.7 L830,1498.6 L832,1499.5 L834,1500.3 L836,1501 L838,1501.8 L840,1502.5 L842,1503.1 L844,1503.7 L846,1504.3 L848,1504.8 L850,1505.4 L852,1505.8 L854,1506.3 L856,1506.7 L858,1507.1 L860,1507.5 L862,1507.8 L864,1508.1 L866,1508.4 L868,1508.7 L870,1509 L872,1509.2 L874,1509.4 L876,1509.6 L878,1509.8 L880,1510 L882,1510.2 L884,1510.3 L886,1510.5 L888,1510.6 L890,1510.7 L892,1510.8 L894,1510.9 L896,1511 L898,1511.1 L900,1511.2 L902,1511.3 L904,1511.3 L906,1511.4 L908,1511.4 L910,1511.5 L912,1511.6 L914,1511.6 L916,1511.6 L918,1511.7 L920,1511.7 L922,1511.7 L924,1511.8 L926,1511.8 L928,1511.8 L930,1511.9 L932,1511.9 L934,1511.9 L936,1511.9 L938,1511.9 L940,1512 L942,1512 L944,1512" fill="none" stroke="#e0141c" stroke-width="6.1" stroke-linejoin="round" stroke-linecap="butt"/>
<path d="M620,1512 L622,1512 L624,1511.9 L626,1511.9 L628,1511.9 L630,1511.8 L632,1511.8 L634,1511.7 L636,1511.7 L638,1511.6 L640,1511.5 L642,1511.5 L644,1511.4 L646,1511.3 L648,1511.2 L650,1511.1 L652,1511 L654,1510.9 L656,1510.7 L658,1510.6 L660,1510.5 L662,1510.3 L664,1510.1 L666,1509.9 L668,1509.7 L670,1509.5 L672,1509.3 L674,1509 L676,1508.7 L678,1508.4 L680,1508.1 L682,1507.8 L684,1507.4 L686,1507 L688,1506.6 L690,1506.2 L692,1505.7 L694,1505.2 L696,1504.7 L698,1504.1 L700,1503.5 L702,1502.9 L704,1502.2 L706,1501.5 L708,1500.7 L710,1500 L712,1499.1 L714,1498.3 L716,1497.4 L718,1496.4 L720,1495.4 L722,1494.4 L724,1493.3 L726,1492.2 L728,1491.1 L730,1489.9 L732,1488.7 L734,1487.4 L736,1486.1 L738,1484.8 L740,1483.4 L742,1482 L744,1480.6 L746,1479.1 L748,1477.6 L750,1476.1 L752,1474.6 L754,1473 L756,1471.5 L758,1469.9 L760,1468.3 L762,1466.7 L764,1465.2 L766,1463.6 L768,1462 L770,1460.5 L772,1458.9 L774,1457.4 L776,1455.9 L778,1454.5 L780,1453.1 L782,1451.7 L784,1450.4 L786,1449.1 L788,1447.9 L790,1446.8 L792,1445.7 L794,1444.7 L796,1443.8 L798,1442.9 L800,1442.2 L802,1441.5 L804,1440.9 L806,1440.4 L808,1440 L810,1439.7 L812,1439.5 L814,1439.4 L816,1439.4 L818,1439.5 L820,1439.7 L822,1440 L824,1440.4 L826,1440.9 L828,1441.5 L830,1442.2 L832,1442.9 L834,1443.8 L836,1444.7 L838,1445.7 L840,1446.8 L842,1447.9 L844,1449.1 L846,1450.4 L848,1451.7 L850,1453 L852,1454.4 L854,1455.9 L856,1457.4 L858,1458.9 L860,1460.4 L862,1461.9 L864,1463.5 L866,1465.1 L868,1466.7 L870,1468.2 L872,1469.8 L874,1471.4 L876,1472.9 L878,1474.5 L880,1476 L882,1477.5 L884,1479 L886,1480.5 L888,1481.9 L890,1483.3 L892,1484.7 L894,1486 L896,1487.3 L898,1488.6 L900,1489.8 L902,1491 L904,1492.1 L906,1493.2 L908,1494.3 L910,1495.3 L912,1496.3 L914,1497.2 L916,1498.1 L918,1499 L920,1499.8 L922,1500.6 L924,1501.3 L926,1502 L928,1502.7 L930,1503.3 L932,1503.9 L934,1504.5 L936,1505 L938,1505.5 L940,1506 L942,1506.4 L944,1506.8 L946,1507.2 L948,1507.6 L950,1507.9 L952,1508.2 L954,1508.5 L956,1508.8 L958,1509.1 L960,1509.3 L962,1509.5 L964,1509.7 L966,1509.9 L968,1510.1 L970,1510.2 L972,1510.4 L974,1510.5 L976,1510.6 L978,1510.8 L980,1510.9 L982,1511 L984,1511 L986,1511.1 L988,1511.2 L990,1511.3 L992,1511.3 L994,1511.4 L996,1511.4 L998,1511.5 L1000,1511.5 L1002,1511.6 L1004,1511.6 L1006,1511.7 L1008,1511.7 L1010,1511.7 L1012,1511.7 L1014,1511.8 L1016,1511.8 L1018,1511.8 L1020,1511.8 L1022,1511.9 L1024,1511.9 L1026,1511.9 L1028,1511.9 L1030,1511.9 L1032,1511.9 L1034,1511.9 L1036,1512 L1038,1512 L1040,1512 L1042,1512 L1044,1512" fill="none" stroke="#1010dc" stroke-width="6.1" stroke-linejoin="round" stroke-linecap="butt"/>
<path d="M690,1512 L692,1511.6 L694,1511.2 L696,1510.8 L698,1510.3 L700,1509.7 L702,1509.2 L704,1508.6 L706,1507.9 L708,1507.1 L710,1506.3 L712,1505.4 L714,1504.5 L716,1503.5 L718,1502.3 L720,1501.1 L722,1499.8 L724,1498.4 L726,1496.8 L728,1495.1 L730,1493.3 L732,1491.3 L734,1489.2 L736,1486.9 L738,1484.5 L740,1481.8 L742,1479 L744,1476 L746,1472.8 L748,1469.3 L750,1465.6 L752,1461.7 L754,1457.5 L756,1453.1 L758,1448.4 L760,1443.4 L762,1438.2 L764,1432.7 L766,1426.9 L768,1420.8 L770,1414.4 L772,1407.7 L774,1400.7 L776,1393.4 L778,1385.8 L780,1377.9 L782,1369.7 L784,1361.2 L786,1352.5 L788,1343.5 L790,1334.3 L792,1324.8 L794,1315.1 L796,1305.1 L798,1295 L800,1284.8 L802,1274.4 L804,1263.8 L806,1253.2 L808,1242.5 L810,1231.8 L812,1221.1 L814,1210.4 L816,1199.7 L818,1189.2 L820,1178.8 L822,1168.6 L824,1158.6 L826,1148.8 L828,1139.3 L830,1130.2 L832,1121.4 L834,1113.1 L836,1105.1 L838,1097.7 L840,1090.8 L842,1084.4 L844,1078.7 L846,1073.5 L848,1069 L850,1065.2 L852,1062.1 L854,1059.7 L856,1058 L858,1057 L860,1056.8 L862,1057.3 L864,1058.4 L866,1060.2 L868,1062.6 L870,1065.7 L872,1069.4 L874,1073.6 L876,1078.5 L878,1083.8 L880,1089.8 L882,1096.2 L884,1103 L886,1110.3 L888,1118.1 L890,1126.1 L892,1134.6 L894,1143.3 L896,1152.3 L898,1161.6 L900,1171 L902,1180.7 L904,1190.5 L906,1200.4 L908,1210.4 L910,1220.4 L912,1230.4 L914,1240.5 L916,1250.5 L918,1260.5 L920,1270.4 L922,1280.2 L924,1289.9 L926,1299.4 L928,1308.8 L930,1318 L932,1327.1 L934,1335.9 L936,1344.5 L938,1352.9 L940,1361 L942,1368.9 L944,1376.5 L946,1383.9 L948,1391 L950,1397.9 L952,1404.5 L954,1410.8 L956,1416.9 L958,1422.7 L960,1428.3 L962,1433.5 L964,1438.6 L966,1443.4 L968,1447.9 L970,1452.2 L972,1456.3 L974,1460.1 L976,1463.7 L978,1467.2 L980,1470.4 L982,1473.4 L984,1476.2 L986,1478.9 L988,1481.3 L990,1483.7 L992,1485.8 L994,1487.8 L996,1489.7 L998,1491.5 L1000,1493.1 L1002,1494.6 L1004,1496 L1006,1497.2 L1008,1498.4 L1010,1499.5 L1012,1500.5 L1014,1501.5 L1016,1502.3 L1018,1503.1 L1020,1503.9 L1022,1504.5 L1024,1505.1 L1026,1505.7 L1028,1506.2 L1030,1506.7 L1032,1507.1 L1034,1507.5 L1036,1507.9 L1038,1508.2 L1040,1508.6 L1042,1508.8 L1044,1509.1 L1046,1509.3 L1048,1509.6 L1050,1509.8 L1052,1510 L1054,1510.1 L1056,1510.3 L1058,1510.4 L1060,1510.6 L1062,1510.7 L1064,1510.8 L1066,1510.9 L1068,1511 L1070,1511.1 L1072,1511.2 L1074,1511.3 L1076,1511.4 L1078,1511.5 L1080,1511.5 L1082,1511.6 L1084,1511.6 L1086,1511.7 L1088,1511.8 L1090,1511.8 L1092,1511.9 L1094,1511.9 L1096,1512 L1098,1512" fill="none" stroke="#111" stroke-width="6.8" stroke-linejoin="round" stroke-linecap="butt"/>
<line x1="1322.0" y1="769.0" x2="2406" y2="769.0" stroke="#bdbdbd" stroke-width="4.6"/>
<path d="M1322,769 L1324,768.9 L1326,768.8 L1328,768.8 L1330,768.7 L1332,768.6 L1334,768.5 L1336,768.4 L1338,768.2 L1340,768.1 L1342,768 L1344,767.8 L1346,767.7 L1348,767.5 L1350,767.4 L1352,767.2 L1354,767 L1356,766.8 L1358,766.6 L1360,766.4 L1362,766.2 L1364,766 L1366,765.7 L1368,765.5 L1370,765.2 L1372,764.9 L1374,764.6 L1376,764.4 L1378,764.1 L1380,763.7 L1382,763.4 L1384,763.1 L1386,762.7 L1388,762.4 L1390,762 L1392,761.7 L1394,761.3 L1396,760.9 L1398,760.5 L1400,760.1 L1402,759.7 L1404,759.3 L1406,758.9 L1408,758.5 L1410,758.1 L1412,757.7 L1414,757.2 L1416,756.8 L1418,756.4 L1420,756 L1422,755.6 L1424,755.2 L1426,754.8 L1428,754.4 L1430,754 L1432,753.6 L1434,753.2 L1436,752.9 L1438,752.5 L1440,752.2 L1442,751.9 L1444,751.6 L1446,751.3 L1448,751 L1450,750.8 L1452,750.5 L1454,750.3 L1456,750.1 L1458,749.9 L1460,749.8 L1462,749.6 L1464,749.5 L1466,749.4 L1468,749.4 L1470,749.3 L1472,749.3 L1474,749.3 L1476,749.3 L1478,749.4 L1480,749.4 L1482,749.5 L1484,749.7 L1486,749.8 L1488,749.9 L1490,750.1 L1492,750.3 L1494,750.5 L1496,750.8 L1498,751 L1500,751.3 L1502,751.6 L1504,751.9 L1506,752.2 L1508,752.6 L1510,752.9 L1512,753.3 L1514,753.6 L1516,754 L1518,754.4 L1520,754.8 L1522,755.2 L1524,755.6 L1526,756 L1528,756.4 L1530,756.8 L1532,757.2 L1534,757.6 L1536,758.1 L1538,758.5 L1540,758.9 L1542,759.3 L1544,759.7 L1546,760.1 L1548,760.5 L1550,760.9 L1552,761.2 L1554,761.6 L1556,762 L1558,762.3 L1560,762.7 L1562,763 L1564,763.3 L1566,763.7 L1568,764 L1570,764.3 L1572,764.6 L1574,764.8 L1576,765.1 L1578,765.4 L1580,765.6 L1582,765.8 L1584,766.1 L1586,766.3 L1588,766.5 L1590,766.7 L1592,766.9 L1594,767.1 L1596,767.2 L1598,767.4 L1600,767.5 L1602,767.7 L1604,767.8 L1606,767.9 L1608,768.1 L1610,768.2 L1612,768.3 L1614,768.4 L1616,768.5 L1618,768.6 L1620,768.6 L1622,768.7 L1624,768.8 L1626,768.9 L1628,768.9 L1630,769 L1632,769 L1634,769.1 L1636,769.1 L1638,769.1 L1640,769.2 L1642,769.2 L1644,769.3 L1646,769.3 L1648,769.3 L1650,769.3 L1652,769.4 L1654,769.4 L1656,769.4 L1658,769.4 L1660,769.4 L1662,769.4 L1664,769.4 L1666,769.5 L1668,769.5 L1670,769.5 L1672,769.5 L1674,769.5 L1676,769.5 L1678,769.5 L1680,769.5 L1682,769.5 L1684,769.5 L1686,769.5 L1688,769.5 L1690,769.5 L1692,769.5 L1694,769.5 L1696,769.5 L1698,769.5 L1700,769.5 L1702,769.5 L1704,769.5 L1706,769.5 L1708,769.5 L1710,769.5 L1712,769.5 L1714,769.5 L1716,769.5 L1718,769.5 L1720,769.5 L1722,769.5 L1724,769.5 L1726,769.5 L1728,769.5 L1730,769.5 L1732,769.5 L1734,769.5 L1736,769.5 L1738,769.5 L1740,769.5 L1742,769.5 L1744,769.5 L1746,769.5 L1748,769.5 L1750,769.5 L1752,769.5 L1754,769.5 L1756,769.5 L1758,769.5 L1760,769.5 L1762,769.5 L1764,769.5 L1766,769.5 L1768,769.5 L1770,769.5 L1772,769.5 L1774,769.5 L1776,769.5 L1778,769.5 L1780,769.5 L1782,769.5 L1784,769.5 L1786,769.5 L1788,769.5 L1790,769.5 L1792,769.5 L1794,769.5 L1796,769.5 L1798,769.5 L1800,769.5 L1802,769.5 L1804,769.5 L1806,769.5 L1808,769.5 L1810,769.4 L1812,769.4 L1814,769.4 L1816,769.4 L1818,769.4 L1820,769.4 L1822,769.4 L1824,769.4 L1826,769.4 L1828,769.4 L1830,769.4 L1832,769.4 L1834,769.4 L1836,769.4 L1838,769.4 L1840,769.4 L1842,769.4 L1844,769.4 L1846,769.4 L1848,769.4 L1850,769.4 L1852,769.4 L1854,769.4 L1856,769.4 L1858,769.4 L1860,769.4 L1862,769.4 L1864,769.4 L1866,769.4 L1868,769.4 L1870,769.4 L1872,769.4 L1874,769.4 L1876,769.4 L1878,769.4 L1880,769.4 L1882,769.4 L1884,769.4 L1886,769.4 L1888,769.4 L1890,769.4 L1892,769.4 L1894,769.4 L1896,769.4 L1898,769.4 L1900,769.4 L1902,769.4 L1904,769.4 L1906,769.4 L1908,769.4 L1910,769.4 L1912,769.4 L1914,769.4 L1916,769.4 L1918,769.4 L1920,769.4 L1922,769.4 L1924,769.4 L1926,769.4 L1928,769.4 L1930,769.4 L1932,769.4 L1934,769.4 L1936,769.4 L1938,769.4 L1940,769.4 L1942,769.4 L1944,769.3 L1946,769.3 L1948,769.3 L1950,769.3 L1952,769.3 L1954,769.3 L1956,769.3 L1958,769.3 L1960,769.3 L1962,769.3 L1964,769.3 L1966,769.3 L1968,769.3 L1970,769.3 L1972,769.3 L1974,769.3 L1976,769.3 L1978,769.3 L1980,769.3 L1982,769.3 L1984,769.3 L1986,769.3 L1988,769.3 L1990,769.3 L1992,769.3 L1994,769.3 L1996,769.3 L1998,769.3 L2000,769.3 L2002,769.3 L2004,769.3 L2006,769.3 L2008,769.3 L2010,769.3 L2012,769.3 L2014,769.3 L2016,769.3 L2018,769.3 L2020,769.3 L2022,769.3 L2024,769.3 L2026,769.3 L2028,769.3 L2030,769.3 L2032,769.3 L2034,769.3 L2036,769.3 L2038,769.3 L2040,769.3 L2042,769.3 L2044,769.3 L2046,769.3 L2048,769.3 L2050,769.3 L2052,769.3 L2054,769.3 L2056,769.3 L2058,769.3 L2060,769.3 L2062,769.3 L2064,769.3 L2066,769.3 L2068,769.3 L2070,769.3 L2072,769.3 L2074,769.3 L2076,769.2 L2078,769.2 L2080,769.2 L2082,769.2 L2084,769.2 L2086,769.2 L2088,769.2 L2090,769.2 L2092,769.2 L2094,769.2 L2096,769.2 L2098,769.2 L2100,769.2 L2102,769.2 L2104,769.2 L2106,769.2 L2108,769.2 L2110,769.2 L2112,769.2 L2114,769.2 L2116,769.2 L2118,769.2 L2120,769.2 L2122,769.2 L2124,769.2 L2126,769.2 L2128,769.2 L2130,769.2 L2132,769.2 L2134,769.2 L2136,769.2 L2138,769.2 L2140,769.2 L2142,769.2 L2144,769.2 L2146,769.2 L2148,769.2 L2150,769.2 L2152,769.2 L2154,769.2 L2156,769.2 L2158,769.2 L2160,769.2 L2162,769.2 L2164,769.2 L2166,769.2 L2168,769.2 L2170,769.2 L2172,769.2 L2174,769.2 L2176,769.2 L2178,769.2 L2180,769.2 L2182,769.2 L2184,769.2 L2186,769.2 L2188,769.2 L2190,769.2 L2192,769.2 L2194,769.2 L2196,769.2 L2198,769.2 L2200,769.2 L2202,769.2 L2204,769.2 L2206,769.2 L2208,769.1 L2210,769.1 L2212,769.1 L2214,769.1 L2216,769.1 L2218,769.1 L2220,769.1 L2222,769.1 L2224,769.1 L2226,769.1 L2228,769.1 L2230,769.1 L2232,769.1 L2234,769.1 L2236,769.1 L2238,769.1 L2240,769.1 L2242,769.1 L2244,769.1 L2246,769.1 L2248,769.1 L2250,769.1 L2252,769.1 L2254,769.1 L2256,769.1 L2258,769.1 L2260,769.1 L2262,769.1 L2264,769.1 L2266,769.1 L2268,769.1 L2270,769.1 L2272,769.1 L2274,769.1 L2276,769.1 L2278,769.1 L2280,769.1 L2282,769.1 L2284,769.1 L2286,769.1 L2288,769.1 L2290,769.1 L2292,769.1 L2294,769.1 L2296,769.1 L2298,769.1 L2300,769.1 L2302,769.1 L2304,769.1 L2306,769.1 L2308,769.1 L2310,769.1 L2312,769.1 L2314,769.1 L2316,769.1 L2318,769.1 L2320,769.1 L2322,769.1 L2324,769.1 L2326,769.1 L2328,769.1 L2330,769.1 L2332,769.1 L2334,769.1 L2336,769.1 L2338,769.1 L2340,769 L2342,769 L2344,769 L2346,769 L2348,769 L2350,769 L2352,769 L2354,769 L2356,769 L2358,769 L2360,769 L2362,769 L2364,769 L2366,769 L2368,769 L2370,769 L2372,769 L2374,769 L2376,769 L2378,769 L2380,769 L2382,769 L2384,769 L2386,769 L2388,769 L2390,769 L2392,769 L2394,769 L2396,769 L2398,769 L2400,769 L2402,769 L2404,769 L2406,769" fill="none" stroke="#bdbdbd" stroke-width="3.8" stroke-linejoin="round" stroke-linecap="butt"/>
<line x1="1322.0" y1="769.0" x2="1624" y2="769.0" stroke="#2020c8" stroke-width="6.2"/>
<line x1="1624" y1="769.0" x2="1720" y2="769.0" stroke="#6868d0" stroke-width="5.0"/>
<path d="M1930,769 L1932,769 L1934,769 L1936,769 L1938,769 L1940,769 L1942,769 L1944,769 L1946,769.1 L1948,769.1 L1950,769.1 L1952,769.1 L1954,769.1 L1956,769.1 L1958,769.1 L1960,769.1 L1962,769.1 L1964,769.1 L1966,769.1 L1968,769.1 L1970,769.1 L1972,769.1 L1974,769.1 L1976,769.1 L1978,769.1 L1980,769.1 L1982,769.1 L1984,769.1 L1986,769.1 L1988,769.1 L1990,769.1 L1992,769.1 L1994,769 L1996,769 L1998,769 L2000,769 L2002,769 L2004,768.9 L2006,768.9 L2008,768.9 L2010,768.9 L2012,768.8 L2014,768.8 L2016,768.7 L2018,768.7 L2020,768.6 L2022,768.6 L2024,768.5 L2026,768.5 L2028,768.4 L2030,768.3 L2032,768.2 L2034,768.1 L2036,768 L2038,767.9 L2040,767.8 L2042,767.6 L2044,767.5 L2046,767.4 L2048,767.2 L2050,767 L2052,766.8 L2054,766.6 L2056,766.4 L2058,766.2 L2060,765.9 L2062,765.7 L2064,765.4 L2066,765.1 L2068,764.8 L2070,764.4 L2072,764.1 L2074,763.7 L2076,763.3 L2078,762.9 L2080,762.4 L2082,762 L2084,761.5 L2086,761 L2088,760.4 L2090,759.8 L2092,759.2 L2094,758.6 L2096,757.9 L2098,757.3 L2100,756.5 L2102,755.8 L2104,755 L2106,754.2 L2108,753.3 L2110,752.4 L2112,751.5 L2114,750.6 L2116,749.6 L2118,748.6 L2120,747.5 L2122,746.5 L2124,745.4 L2126,744.2 L2128,743 L2130,741.8 L2132,740.6 L2134,739.4 L2136,738.1 L2138,736.8 L2140,735.4 L2142,734.1 L2144,732.7 L2146,731.3 L2148,729.9 L2150,728.4 L2152,727 L2154,725.5 L2156,724 L2158,722.5 L2160,721.1 L2162,719.6 L2164,718.1 L2166,716.6 L2168,715.1 L2170,713.6 L2172,712.2 L2174,710.7 L2176,709.3 L2178,707.9 L2180,706.5 L2182,705.1 L2184,703.8 L2186,702.5 L2188,701.2 L2190,700 L2192,698.8 L2194,697.6 L2196,696.5 L2198,695.5 L2200,694.5 L2202,693.6 L2204,692.7 L2206,691.9 L2208,691.1 L2210,690.4 L2212,689.8 L2214,689.3 L2216,688.8 L2218,688.4 L2220,688.1 L2222,687.8 L2224,687.6 L2226,687.5 L2228,687.5 L2230,687.5 L2232,687.7 L2234,687.9 L2236,688.2 L2238,688.5 L2240,688.9 L2242,689.4 L2244,690 L2246,690.6 L2248,691.4 L2250,692.1 L2252,693 L2254,693.9 L2256,694.8 L2258,695.8 L2260,696.9 L2262,698 L2264,699.2 L2266,700.4 L2268,701.6 L2270,702.9 L2272,704.3 L2274,705.6 L2276,707 L2278,708.4 L2280,709.8 L2282,711.3 L2284,712.8 L2286,714.3 L2288,715.8 L2290,717.3 L2292,718.8 L2294,720.3 L2296,721.8 L2298,723.3 L2300,724.8 L2302,726.3 L2304,727.8 L2306,729.3 L2308,730.7 L2310,732.2 L2312,733.6 L2314,735 L2316,736.4 L2318,737.8 L2320,739.1 L2322,740.4 L2324,741.7 L2326,742.9 L2328,744.2 L2330,745.4 L2332,746.5 L2334,747.6 L2336,748.7 L2338,749.8 L2340,750.9 L2342,751.9 L2344,752.8 L2346,753.8 L2348,754.7 L2350,755.5 L2352,756.4 L2354,757.2 L2356,758 L2358,758.7 L2360,759.4 L2362,760.1 L2364,760.8 L2366,761.4 L2368,762 L2370,762.5 L2372,763.1 L2374,763.6 L2376,764.1 L2378,764.6 L2380,765 L2382,765.4 L2384,765.8 L2386,766.2 L2388,766.6 L2390,766.9 L2392,767.2 L2394,767.5 L2396,767.8 L2398,768.1 L2400,768.3 L2402,768.6 L2404,768.8 L2406,769" fill="none" stroke="#111" stroke-width="6.8" stroke-linejoin="round" stroke-linecap="butt"/>
<path d="M1722,769 L1724,768.9 L1726,768.9 L1728,768.8 L1730,768.7 L1732,768.6 L1734,768.5 L1736,768.5 L1738,768.4 L1740,768.3 L1742,768.2 L1744,768.1 L1746,768 L1748,767.8 L1750,767.7 L1752,767.6 L1754,767.5 L1756,767.3 L1758,767.2 L1760,767 L1762,766.8 L1764,766.6 L1766,766.4 L1768,766.2 L1770,765.9 L1772,765.6 L1774,765.3 L1776,765 L1778,764.7 L1780,764.3 L1782,763.8 L1784,763.4 L1786,762.8 L1788,762.3 L1790,761.6 L1792,761 L1794,760.2 L1796,759.3 L1798,758.4 L1800,757.4 L1802,756.3 L1804,755.1 L1806,753.7 L1808,752.2 L1810,750.6 L1812,748.8 L1814,746.8 L1816,744.7 L1818,742.4 L1820,739.8 L1822,737.1 L1824,734.1 L1826,730.8 L1828,727.3 L1830,723.5 L1832,719.4 L1834,714.9 L1836,710.2 L1838,705 L1840,699.5 L1842,693.7 L1844,687.4 L1846,680.7 L1848,673.6 L1850,666 L1852,658 L1854,649.5 L1856,640.6 L1858,631.1 L1860,621.2 L1862,610.8 L1864,600 L1866,588.6 L1868,576.8 L1870,564.5 L1872,551.8 L1874,538.6 L1876,525 L1878,511 L1880,496.6 L1882,481.8 L1884,466.8 L1886,451.5 L1888,435.9 L1890,420.1 L1892,404.1 L1894,388 L1896,371.9 L1898,355.8 L1900,339.7 L1902,323.7 L1904,307.8 L1906,292.2 L1908,276.9 L1910,262 L1912,247.4 L1914,233.4 L1916,219.9 L1918,207 L1920,194.8 L1922,183.4 L1924,172.8 L1926,163 L1928,154.2 L1930,146.4 L1932,139.6 L1934,133.8 L1936,129.2 L1938,125.7 L1940,123.3 L1942,122.1 L1944,122.1 L1946,123.3 L1948,125.7 L1950,129.2 L1952,133.8 L1954,139.6 L1956,146.4 L1958,154.3 L1960,163.1 L1962,172.8 L1964,183.5 L1966,194.9 L1968,207.1 L1970,220 L1972,233.5 L1974,247.5 L1976,262 L1978,277 L1980,292.3 L1982,307.9 L1984,323.8 L1986,339.8 L1988,355.9 L1990,372 L1992,388.2 L1994,404.2 L1996,420.2 L1998,436 L2000,451.6 L2002,466.9 L2004,482 L2006,496.8 L2008,511.1 L2010,525.2 L2012,538.8 L2014,552 L2016,564.7 L2018,577 L2020,588.8 L2022,600.2 L2024,611.1 L2026,621.4 L2028,631.4 L2030,640.8 L2032,649.7 L2034,658.2 L2036,666.2 L2038,673.8 L2040,680.9 L2042,687.6 L2044,693.9 L2046,699.8 L2048,705.3 L2050,710.4 L2052,715.2 L2054,719.7 L2056,723.8 L2058,727.6 L2060,731.1 L2062,734.4 L2064,737.4 L2066,740.2 L2068,742.7 L2070,745 L2072,747.2 L2074,749.1 L2076,750.9 L2078,752.6 L2080,754.1 L2082,755.4 L2084,756.7 L2086,757.8 L2088,758.8 L2090,759.7 L2092,760.6 L2094,761.3 L2096,762 L2098,762.7 L2100,763.3 L2102,763.8 L2104,764.3 L2106,764.7 L2108,765.1 L2110,765.5 L2112,765.8 L2114,766.1 L2116,766.4 L2118,766.6 L2120,766.9 L2122,767.1 L2124,767.3 L2126,767.5 L2128,767.6 L2130,767.8 L2132,768 L2134,768.1 L2136,768.2 L2138,768.4 L2140,768.5 L2142,768.6 L2144,768.7 L2146,768.8 L2148,768.9 L2150,769" fill="none" stroke="#e0141c" stroke-width="6.1" stroke-linejoin="round" stroke-linecap="butt"/>
<path d="M1989,769 L1991,768.9 L1993,768.9 L1995,768.8 L1997,768.7 L1999,768.7 L2001,768.6 L2003,768.4 L2005,768.3 L2007,768.2 L2009,768.1 L2011,767.9 L2013,767.7 L2015,767.5 L2017,767.3 L2019,767.1 L2021,766.9 L2023,766.6 L2025,766.3 L2027,766 L2029,765.7 L2031,765.3 L2033,765 L2035,764.6 L2037,764.2 L2039,763.8 L2041,763.3 L2043,762.8 L2045,762.4 L2047,761.9 L2049,761.3 L2051,760.8 L2053,760.2 L2055,759.7 L2057,759.1 L2059,758.5 L2061,758 L2063,757.4 L2065,756.8 L2067,756.2 L2069,755.6 L2071,755.1 L2073,754.5 L2075,754 L2077,753.5 L2079,753 L2081,752.6 L2083,752.1 L2085,751.7 L2087,751.4 L2089,751.1 L2091,750.8 L2093,750.5 L2095,750.3 L2097,750.2 L2099,750.1 L2101,750 L2103,750 L2105,750 L2107,750.1 L2109,750.3 L2111,750.4 L2113,750.6 L2115,750.9 L2117,751.2 L2119,751.6 L2121,751.9 L2123,752.4 L2125,752.8 L2127,753.3 L2129,753.8 L2131,754.3 L2133,754.8 L2135,755.4 L2137,755.9 L2139,756.5 L2141,757.1 L2143,757.7 L2145,758.3 L2147,758.8 L2149,759.4 L2151,760 L2153,760.5 L2155,761.1 L2157,761.6 L2159,762.1 L2161,762.6 L2163,763.1 L2165,763.6 L2167,764 L2169,764.4 L2171,764.8 L2173,765.2 L2175,765.5 L2177,765.9 L2179,766.2 L2181,766.5 L2183,766.7 L2185,767 L2187,767.2 L2189,767.4 L2191,767.6 L2193,767.8 L2195,768 L2197,768.1 L2199,768.3 L2201,768.4 L2203,768.5 L2205,768.6 L2207,768.7 L2209,768.8 L2211,768.9 L2213,768.9 L2215,769" fill="none" stroke="#1010dc" stroke-width="5.0" stroke-linejoin="round" stroke-linecap="butt"/>
<line x1="1322.0" y1="1525.0" x2="2406" y2="1525.0" stroke="#bdbdbd" stroke-width="4.6"/>
<path d="M1322,1525 L1324,1525 L1326,1524.9 L1328,1524.8 L1330,1524.8 L1332,1524.7 L1334,1524.7 L1336,1524.6 L1338,1524.5 L1340,1524.4 L1342,1524.3 L1344,1524.2 L1346,1524.1 L1348,1524 L1350,1523.9 L1352,1523.8 L1354,1523.7 L1356,1523.5 L1358,1523.4 L1360,1523.2 L1362,1523.1 L1364,1522.9 L1366,1522.7 L1368,1522.5 L1370,1522.4 L1372,1522.2 L1374,1521.9 L1376,1521.7 L1378,1521.5 L1380,1521.3 L1382,1521 L1384,1520.8 L1386,1520.5 L1388,1520.2 L1390,1519.9 L1392,1519.7 L1394,1519.4 L1396,1519 L1398,1518.7 L1400,1518.4 L1402,1518.1 L1404,1517.8 L1406,1517.4 L1408,1517.1 L1410,1516.7 L1412,1516.4 L1414,1516 L1416,1515.6 L1418,1515.3 L1420,1514.9 L1422,1514.6 L1424,1514.2 L1426,1513.8 L1428,1513.5 L1430,1513.1 L1432,1512.8 L1434,1512.4 L1436,1512.1 L1438,1511.7 L1440,1511.4 L1442,1511.1 L1444,1510.8 L1446,1510.5 L1448,1510.2 L1450,1509.9 L1452,1509.6 L1454,1509.4 L1456,1509.1 L1458,1508.9 L1460,1508.7 L1462,1508.5 L1464,1508.3 L1466,1508.2 L1468,1508 L1470,1507.9 L1472,1507.8 L1474,1507.7 L1476,1507.7 L1478,1507.6 L1480,1507.6 L1482,1507.6 L1484,1507.6 L1486,1507.7 L1488,1507.7 L1490,1507.8 L1492,1507.9 L1494,1508 L1496,1508.2 L1498,1508.3 L1500,1508.5 L1502,1508.7 L1504,1508.9 L1506,1509.1 L1508,1509.3 L1510,1509.6 L1512,1509.9 L1514,1510.1 L1516,1510.4 L1518,1510.7 L1520,1511 L1522,1511.4 L1524,1511.7 L1526,1512 L1528,1512.4 L1530,1512.7 L1532,1513.1 L1534,1513.4 L1536,1513.8 L1538,1514.1 L1540,1514.5 L1542,1514.9 L1544,1515.2 L1546,1515.6 L1548,1515.9 L1550,1516.3 L1552,1516.7 L1554,1517 L1556,1517.3 L1558,1517.7 L1560,1518 L1562,1518.3 L1564,1518.7 L1566,1519 L1568,1519.3 L1570,1519.6 L1572,1519.9 L1574,1520.1 L1576,1520.4 L1578,1520.7 L1580,1520.9 L1582,1521.2 L1584,1521.4 L1586,1521.6 L1588,1521.8 L1590,1522.1 L1592,1522.3 L1594,1522.4 L1596,1522.6 L1598,1522.8 L1600,1523 L1602,1523.1 L1604,1523.3 L1606,1523.4 L1608,1523.5 L1610,1523.7 L1612,1523.8 L1614,1523.9 L1616,1524 L1618,1524.1 L1620,1524.2 L1622,1524.3 L1624,1524.4 L1626,1524.4 L1628,1524.5 L1630,1524.6 L1632,1524.6 L1634,1524.7 L1636,1524.8 L1638,1524.8 L1640,1524.9 L1642,1524.9 L1644,1524.9 L1646,1525 L1648,1525 L1650,1525 L1652,1525.1 L1654,1525.1 L1656,1525.1 L1658,1525.1 L1660,1525.2 L1662,1525.2 L1664,1525.2 L1666,1525.2 L1668,1525.2 L1670,1525.2 L1672,1525.2 L1674,1525.2 L1676,1525.3 L1678,1525.3 L1680,1525.3 L1682,1525.3 L1684,1525.3 L1686,1525.3 L1688,1525.3 L1690,1525.3 L1692,1525.3 L1694,1525.3 L1696,1525.3 L1698,1525.3 L1700,1525.3 L1702,1525.3 L1704,1525.3 L1706,1525.3 L1708,1525.3 L1710,1525.3 L1712,1525.3 L1714,1525.3 L1716,1525.3 L1718,1525.3 L1720,1525.3 L1722,1525.3 L1724,1525.3 L1726,1525.3 L1728,1525.3 L1730,1525.3 L1732,1525.3 L1734,1525.3 L1736,1525.3 L1738,1525.3 L1740,1525.3 L1742,1525.3 L1744,1525.3 L1746,1525.3 L1748,1525.3 L1750,1525.3 L1752,1525.3 L1754,1525.3 L1756,1525.3 L1758,1525.3 L1760,1525.3 L1762,1525.3 L1764,1525.3 L1766,1525.3 L1768,1525.3 L1770,1525.3 L1772,1525.3 L1774,1525.3 L1776,1525.3 L1778,1525.3 L1780,1525.3 L1782,1525.3 L1784,1525.3 L1786,1525.3 L1788,1525.3 L1790,1525.3 L1792,1525.3 L1794,1525.3 L1796,1525.3 L1798,1525.3 L1800,1525.3 L1802,1525.3 L1804,1525.3 L1806,1525.3 L1808,1525.3 L1810,1525.3 L1812,1525.3 L1814,1525.3 L1816,1525.3 L1818,1525.3 L1820,1525.3 L1822,1525.3 L1824,1525.3 L1826,1525.3 L1828,1525.3 L1830,1525.3 L1832,1525.3 L1834,1525.3 L1836,1525.3 L1838,1525.3 L1840,1525.3 L1842,1525.3 L1844,1525.3 L1846,1525.3 L1848,1525.3 L1850,1525.3 L1852,1525.3 L1854,1525.3 L1856,1525.3 L1858,1525.3 L1860,1525.3 L1862,1525.3 L1864,1525.2 L1866,1525.2 L1868,1525.2 L1870,1525.2 L1872,1525.2 L1874,1525.2 L1876,1525.2 L1878,1525.2 L1880,1525.2 L1882,1525.2 L1884,1525.2 L1886,1525.2 L1888,1525.2 L1890,1525.2 L1892,1525.2 L1894,1525.2 L1896,1525.2 L1898,1525.2 L1900,1525.2 L1902,1525.2 L1904,1525.2 L1906,1525.2 L1908,1525.2 L1910,1525.2 L1912,1525.2 L1914,1525.2 L1916,1525.2 L1918,1525.2 L1920,1525.2 L1922,1525.2 L1924,1525.2 L1926,1525.2 L1928,1525.2 L1930,1525.2 L1932,1525.2 L1934,1525.2 L1936,1525.2 L1938,1525.2 L1940,1525.2 L1942,1525.2 L1944,1525.2 L1946,1525.2 L1948,1525.2 L1950,1525.2 L1952,1525.2 L1954,1525.2 L1956,1525.2 L1958,1525.2 L1960,1525.2 L1962,1525.2 L1964,1525.2 L1966,1525.2 L1968,1525.2 L1970,1525.2 L1972,1525.2 L1974,1525.2 L1976,1525.2 L1978,1525.2 L1980,1525.2 L1982,1525.2 L1984,1525.2 L1986,1525.2 L1988,1525.2 L1990,1525.2 L1992,1525.2 L1994,1525.2 L1996,1525.2 L1998,1525.2 L2000,1525.2 L2002,1525.2 L2004,1525.2 L2006,1525.2 L2008,1525.2 L2010,1525.2 L2012,1525.2 L2014,1525.2 L2016,1525.2 L2018,1525.2 L2020,1525.2 L2022,1525.2 L2024,1525.2 L2026,1525.2 L2028,1525.2 L2030,1525.2 L2032,1525.2 L2034,1525.2 L2036,1525.2 L2038,1525.2 L2040,1525.2 L2042,1525.2 L2044,1525.2 L2046,1525.2 L2048,1525.2 L2050,1525.2 L2052,1525.2 L2054,1525.2 L2056,1525.2 L2058,1525.2 L2060,1525.2 L2062,1525.2 L2064,1525.2 L2066,1525.2 L2068,1525.2 L2070,1525.2 L2072,1525.2 L2074,1525.2 L2076,1525.2 L2078,1525.2 L2080,1525.2 L2082,1525.1 L2084,1525.1 L2086,1525.1 L2088,1525.1 L2090,1525.1 L2092,1525.1 L2094,1525.1 L2096,1525.1 L2098,1525.1 L2100,1525.1 L2102,1525.1 L2104,1525.1 L2106,1525.1 L2108,1525.1 L2110,1525.1 L2112,1525.1 L2114,1525.1 L2116,1525.1 L2118,1525.1 L2120,1525.1 L2122,1525.1 L2124,1525.1 L2126,1525.1 L2128,1525.1 L2130,1525.1 L2132,1525.1 L2134,1525.1 L2136,1525.1 L2138,1525.1 L2140,1525.1 L2142,1525.1 L2144,1525.1 L2146,1525.1 L2148,1525.1 L2150,1525.1 L2152,1525.1 L2154,1525.1 L2156,1525.1 L2158,1525.1 L2160,1525.1 L2162,1525.1 L2164,1525.1 L2166,1525.1 L2168,1525.1 L2170,1525.1 L2172,1525.1 L2174,1525.1 L2176,1525.1 L2178,1525.1 L2180,1525.1 L2182,1525.1 L2184,1525.1 L2186,1525.1 L2188,1525.1 L2190,1525.1 L2192,1525.1 L2194,1525.1 L2196,1525.1 L2198,1525.1 L2200,1525.1 L2202,1525.1 L2204,1525.1 L2206,1525.1 L2208,1525.1 L2210,1525.1 L2212,1525.1 L2214,1525.1 L2216,1525.1 L2218,1525.1 L2220,1525.1 L2222,1525.1 L2224,1525.1 L2226,1525.1 L2228,1525.1 L2230,1525.1 L2232,1525.1 L2234,1525.1 L2236,1525.1 L2238,1525.1 L2240,1525.1 L2242,1525.1 L2244,1525.1 L2246,1525.1 L2248,1525.1 L2250,1525.1 L2252,1525.1 L2254,1525.1 L2256,1525.1 L2258,1525.1 L2260,1525.1 L2262,1525.1 L2264,1525.1 L2266,1525.1 L2268,1525.1 L2270,1525.1 L2272,1525.1 L2274,1525.1 L2276,1525.1 L2278,1525.1 L2280,1525.1 L2282,1525.1 L2284,1525.1 L2286,1525.1 L2288,1525.1 L2290,1525.1 L2292,1525.1 L2294,1525.1 L2296,1525.1 L2298,1525 L2300,1525 L2302,1525 L2304,1525 L2306,1525 L2308,1525 L2310,1525 L2312,1525 L2314,1525 L2316,1525 L2318,1525 L2320,1525 L2322,1525 L2324,1525 L2326,1525 L2328,1525 L2330,1525 L2332,1525 L2334,1525 L2336,1525 L2338,1525 L2340,1525 L2342,1525 L2344,1525 L2346,1525 L2348,1525 L2350,1525 L2352,1525 L2354,1525 L2356,1525 L2358,1525 L2360,1525 L2362,1525 L2364,1525 L2366,1525 L2368,1525 L2370,1525 L2372,1525 L2374,1525 L2376,1525 L2378,1525 L2380,1525 L2382,1525 L2384,1525 L2386,1525 L2388,1525 L2390,1525 L2392,1525 L2394,1525 L2396,1525 L2398,1525 L2400,1525 L2402,1525 L2404,1525 L2406,1525" fill="none" stroke="#bdbdbd" stroke-width="3.8" stroke-linejoin="round" stroke-linecap="butt"/>
<line x1="1322.0" y1="1525.0" x2="1636" y2="1525.0" stroke="#2020c8" stroke-width="6.2"/>
<line x1="1636" y1="1525.0" x2="1743" y2="1525.0" stroke="#6868d0" stroke-width="5.0"/>
<path d="M1914,1525 L1916,1525 L1918,1525 L1920,1525 L1922,1525 L1924,1525 L1926,1525.1 L1928,1525.1 L1930,1525.1 L1932,1525.1 L1934,1525.1 L1936,1525.1 L1938,1525.1 L1940,1525.1 L1942,1525.1 L1944,1525.1 L1946,1525.1 L1948,1525.1 L1950,1525.1 L1952,1525.1 L1954,1525.1 L1956,1525.1 L1958,1525.1 L1960,1525.1 L1962,1525.2 L1964,1525.2 L1966,1525.2 L1968,1525.2 L1970,1525.2 L1972,1525.2 L1974,1525.2 L1976,1525.1 L1978,1525.1 L1980,1525.1 L1982,1525.1 L1984,1525.1 L1986,1525.1 L1988,1525.1 L1990,1525.1 L1992,1525.1 L1994,1525.1 L1996,1525.1 L1998,1525 L2000,1525 L2002,1525 L2004,1525 L2006,1524.9 L2008,1524.9 L2010,1524.9 L2012,1524.8 L2014,1524.8 L2016,1524.7 L2018,1524.7 L2020,1524.6 L2022,1524.5 L2024,1524.5 L2026,1524.4 L2028,1524.3 L2030,1524.2 L2032,1524.1 L2034,1524 L2036,1523.9 L2038,1523.8 L2040,1523.7 L2042,1523.5 L2044,1523.4 L2046,1523.2 L2048,1523 L2050,1522.8 L2052,1522.6 L2054,1522.4 L2056,1522.1 L2058,1521.9 L2060,1521.6 L2062,1521.3 L2064,1521 L2066,1520.7 L2068,1520.3 L2070,1519.9 L2072,1519.5 L2074,1519.1 L2076,1518.6 L2078,1518.2 L2080,1517.6 L2082,1517.1 L2084,1516.5 L2086,1515.9 L2088,1515.3 L2090,1514.6 L2092,1513.9 L2094,1513.2 L2096,1512.4 L2098,1511.6 L2100,1510.8 L2102,1509.9 L2104,1509 L2106,1508 L2108,1507 L2110,1506 L2112,1504.9 L2114,1503.7 L2116,1502.6 L2118,1501.3 L2120,1500.1 L2122,1498.8 L2124,1497.4 L2126,1496 L2128,1494.6 L2130,1493.1 L2132,1491.6 L2134,1490.1 L2136,1488.5 L2138,1486.9 L2140,1485.2 L2142,1483.5 L2144,1481.8 L2146,1480 L2148,1478.2 L2150,1476.4 L2152,1474.5 L2154,1472.7 L2156,1470.8 L2158,1468.8 L2160,1466.9 L2162,1465 L2164,1463 L2166,1461.1 L2168,1459.1 L2170,1457.2 L2172,1455.2 L2174,1453.3 L2176,1451.4 L2178,1449.5 L2180,1447.6 L2182,1445.7 L2184,1443.9 L2186,1442.1 L2188,1440.3 L2190,1438.6 L2192,1437 L2194,1435.3 L2196,1433.8 L2198,1432.3 L2200,1430.8 L2202,1429.5 L2204,1428.2 L2206,1426.9 L2208,1425.8 L2210,1424.7 L2212,1423.8 L2214,1422.9 L2216,1422.1 L2218,1421.4 L2220,1420.8 L2222,1420.3 L2224,1419.9 L2226,1419.6 L2228,1419.4 L2230,1419.3 L2232,1419.3 L2234,1419.4 L2236,1419.7 L2238,1420 L2240,1420.4 L2242,1421 L2244,1421.6 L2246,1422.3 L2248,1423.2 L2250,1424.1 L2252,1425.1 L2254,1426.2 L2256,1427.4 L2258,1428.6 L2260,1429.9 L2262,1431.3 L2264,1432.8 L2266,1434.4 L2268,1435.9 L2270,1437.6 L2272,1439.3 L2274,1441.1 L2276,1442.8 L2278,1444.7 L2280,1446.5 L2282,1448.4 L2284,1450.3 L2286,1452.3 L2288,1454.2 L2290,1456.2 L2292,1458.2 L2294,1460.2 L2296,1462.2 L2298,1464.1 L2300,1466.1 L2302,1468.1 L2304,1470 L2306,1472 L2308,1473.9 L2310,1475.8 L2312,1477.7 L2314,1479.6 L2316,1481.4 L2318,1483.2 L2320,1485 L2322,1486.7 L2324,1488.4 L2326,1490 L2328,1491.7 L2330,1493.3 L2332,1494.8 L2334,1496.3 L2336,1497.8 L2338,1499.2 L2340,1500.6 L2342,1501.9 L2344,1503.2 L2346,1504.4 L2348,1505.7 L2350,1506.8 L2352,1507.9 L2354,1509 L2356,1510.1 L2358,1511.1 L2360,1512 L2362,1512.9 L2364,1513.8 L2366,1514.7 L2368,1515.5 L2370,1516.2 L2372,1517 L2374,1517.7 L2376,1518.3 L2378,1519 L2380,1519.6 L2382,1520.1 L2384,1520.7 L2386,1521.2 L2388,1521.7 L2390,1522.1 L2392,1522.6 L2394,1523 L2396,1523.4 L2398,1523.7 L2400,1524.1 L2402,1524.4 L2404,1524.7 L2406,1525" fill="none" stroke="#111" stroke-width="6.8" stroke-linejoin="round" stroke-linecap="butt"/>
<path d="M1733,1525 L1735,1524.9 L1737,1524.7 L1739,1524.6 L1741,1524.4 L1743,1524.2 L1745,1524 L1747,1523.8 L1749,1523.6 L1751,1523.4 L1753,1523.2 L1755,1522.9 L1757,1522.6 L1759,1522.4 L1761,1522 L1763,1521.7 L1765,1521.3 L1767,1520.9 L1769,1520.5 L1771,1520.1 L1773,1519.6 L1775,1519 L1777,1518.4 L1779,1517.8 L1781,1517.1 L1783,1516.4 L1785,1515.6 L1787,1514.7 L1789,1513.8 L1791,1512.8 L1793,1511.7 L1795,1510.5 L1797,1509.2 L1799,1507.8 L1801,1506.3 L1803,1504.7 L1805,1503 L1807,1501.1 L1809,1499.1 L1811,1497 L1813,1494.6 L1815,1492.2 L1817,1489.5 L1819,1486.7 L1821,1483.6 L1823,1480.4 L1825,1477 L1827,1473.3 L1829,1469.4 L1831,1465.3 L1833,1460.9 L1835,1456.3 L1837,1451.4 L1839,1446.3 L1841,1440.9 L1843,1435.2 L1845,1429.2 L1847,1422.9 L1849,1416.4 L1851,1409.6 L1853,1402.4 L1855,1395 L1857,1387.3 L1859,1379.3 L1861,1371 L1863,1362.4 L1865,1353.6 L1867,1344.5 L1869,1335.1 L1871,1325.5 L1873,1315.7 L1875,1305.6 L1877,1295.4 L1879,1285 L1881,1274.4 L1883,1263.6 L1885,1252.8 L1887,1241.9 L1889,1230.9 L1891,1219.8 L1893,1208.8 L1895,1197.7 L1897,1186.7 L1899,1175.9 L1901,1165.1 L1903,1154.5 L1905,1144 L1907,1133.8 L1909,1123.9 L1911,1114.3 L1913,1105 L1915,1096.1 L1917,1087.6 L1919,1079.5 L1921,1072 L1923,1065 L1925,1058.5 L1927,1052.6 L1929,1047.4 L1931,1042.8 L1933,1038.9 L1935,1035.6 L1937,1033.1 L1939,1031.3 L1941,1030.3 L1943,1030 L1945,1030.5 L1947,1031.6 L1949,1033.6 L1951,1036.2 L1953,1039.6 L1955,1043.7 L1957,1048.4 L1959,1053.8 L1961,1059.8 L1963,1066.3 L1965,1073.5 L1967,1081.1 L1969,1089.3 L1971,1097.9 L1973,1106.8 L1975,1116.2 L1977,1125.9 L1979,1135.9 L1981,1146.2 L1983,1156.6 L1985,1167.3 L1987,1178.1 L1989,1189 L1991,1200 L1993,1211 L1995,1222.1 L1997,1233.1 L1999,1244.1 L2001,1255 L2003,1265.9 L2005,1276.6 L2007,1287.1 L2009,1297.5 L2011,1307.7 L2013,1317.7 L2015,1327.5 L2017,1337.1 L2019,1346.4 L2021,1355.5 L2023,1364.2 L2025,1372.8 L2027,1381 L2029,1389 L2031,1396.6 L2033,1404 L2035,1411.1 L2037,1417.8 L2039,1424.3 L2041,1430.5 L2043,1436.5 L2045,1442.1 L2047,1447.5 L2049,1452.6 L2051,1457.4 L2053,1462 L2055,1466.3 L2057,1470.4 L2059,1474.2 L2061,1477.8 L2063,1481.2 L2065,1484.4 L2067,1487.4 L2069,1490.2 L2071,1492.8 L2073,1495.3 L2075,1497.6 L2077,1499.7 L2079,1501.7 L2081,1503.5 L2083,1505.2 L2085,1506.8 L2087,1508.3 L2089,1509.7 L2091,1510.9 L2093,1512.1 L2095,1513.2 L2097,1514.2 L2099,1515.1 L2101,1516 L2103,1516.8 L2105,1517.5 L2107,1518.2 L2109,1518.8 L2111,1519.3 L2113,1519.9 L2115,1520.4 L2117,1520.8 L2119,1521.2 L2121,1521.6 L2123,1522 L2125,1522.3 L2127,1522.6 L2129,1522.9 L2131,1523.2 L2133,1523.5 L2135,1523.7 L2137,1523.9 L2139,1524.1 L2141,1524.3 L2143,1524.5 L2145,1524.7 L2147,1524.8 L2149,1525" fill="none" stroke="#e0141c" stroke-width="6.1" stroke-linejoin="round" stroke-linecap="butt"/>
<path d="M1967,1525 L1969,1525 L1971,1525 L1973,1524.9 L1975,1524.9 L1977,1524.9 L1979,1524.8 L1981,1524.8 L1983,1524.8 L1985,1524.7 L1987,1524.6 L1989,1524.6 L1991,1524.5 L1993,1524.4 L1995,1524.3 L1997,1524.3 L1999,1524.1 L2001,1524 L2003,1523.9 L2005,1523.8 L2007,1523.6 L2009,1523.4 L2011,1523.3 L2013,1523.1 L2015,1522.9 L2017,1522.6 L2019,1522.4 L2021,1522.1 L2023,1521.9 L2025,1521.6 L2027,1521.3 L2029,1520.9 L2031,1520.6 L2033,1520.2 L2035,1519.9 L2037,1519.5 L2039,1519.1 L2041,1518.6 L2043,1518.2 L2045,1517.7 L2047,1517.3 L2049,1516.8 L2051,1516.3 L2053,1515.8 L2055,1515.3 L2057,1514.8 L2059,1514.3 L2061,1513.8 L2063,1513.3 L2065,1512.8 L2067,1512.3 L2069,1511.9 L2071,1511.4 L2073,1510.9 L2075,1510.5 L2077,1510.1 L2079,1509.7 L2081,1509.3 L2083,1509 L2085,1508.7 L2087,1508.4 L2089,1508.2 L2091,1508 L2093,1507.8 L2095,1507.7 L2097,1507.6 L2099,1507.5 L2101,1507.5 L2103,1507.5 L2105,1507.6 L2107,1507.7 L2109,1507.8 L2111,1508 L2113,1508.2 L2115,1508.4 L2117,1508.7 L2119,1509 L2121,1509.4 L2123,1509.7 L2125,1510.1 L2127,1510.5 L2129,1511 L2131,1511.4 L2133,1511.9 L2135,1512.4 L2137,1512.8 L2139,1513.3 L2141,1513.8 L2143,1514.4 L2145,1514.9 L2147,1515.4 L2149,1515.9 L2151,1516.4 L2153,1516.8 L2155,1517.3 L2157,1517.8 L2159,1518.2 L2161,1518.7 L2163,1519.1 L2165,1519.5 L2167,1519.9 L2169,1520.3 L2171,1520.7 L2173,1521 L2175,1521.3 L2177,1521.6 L2179,1521.9 L2181,1522.2 L2183,1522.5 L2185,1522.7 L2187,1522.9 L2189,1523.1 L2191,1523.3 L2193,1523.5 L2195,1523.7 L2197,1523.8 L2199,1524 L2201,1524.1 L2203,1524.2 L2205,1524.3 L2207,1524.4 L2209,1524.5 L2211,1524.6 L2213,1524.7 L2215,1524.7 L2217,1524.8 L2219,1524.8 L2221,1524.9 L2223,1524.9 L2225,1525 L2227,1525" fill="none" stroke="#1010dc" stroke-width="5.0" stroke-linejoin="round" stroke-linecap="butt"/>
<g stroke="#262626" fill="none">
<line x1="112.0" y1="43" x2="112.0" y2="1574.0" stroke-width="4.6" stroke="#444"/>
<line x1="1322.0" y1="43" x2="1322.0" y2="1574.0" stroke-width="5.4" stroke="#333"/>
<line x1="110" y1="801.8" x2="1197.3" y2="801.8" stroke-width="6.0"/>
<line x1="153.7" y1="801.3" x2="153.7" y2="811.8" stroke-width="5.2"/>
<line x1="195.3" y1="801.3" x2="195.3" y2="811.8" stroke-width="5.2"/>
<line x1="237" y1="801.3" x2="237" y2="811.8" stroke-width="5.2"/>
<line x1="278.7" y1="801.3" x2="278.7" y2="817.3" stroke-width="5.2"/>
<line x1="320.3" y1="801.3" x2="320.3" y2="811.8" stroke-width="5.2"/>
<line x1="362" y1="801.3" x2="362" y2="811.8" stroke-width="5.2"/>
<line x1="403.7" y1="801.3" x2="403.7" y2="811.8" stroke-width="5.2"/>
<line x1="445.3" y1="801.3" x2="445.3" y2="817.3" stroke-width="5.2"/>
<line x1="487" y1="801.3" x2="487" y2="811.8" stroke-width="5.2"/>
<line x1="528.6" y1="801.3" x2="528.6" y2="811.8" stroke-width="5.2"/>
<line x1="570.3" y1="801.3" x2="570.3" y2="811.8" stroke-width="5.2"/>
<line x1="612" y1="801.3" x2="612" y2="817.3" stroke-width="5.2"/>
<line x1="653.6" y1="801.3" x2="653.6" y2="811.8" stroke-width="5.2"/>
<line x1="695.3" y1="801.3" x2="695.3" y2="811.8" stroke-width="5.2"/>
<line x1="737" y1="801.3" x2="737" y2="811.8" stroke-width="5.2"/>
<line x1="778.6" y1="801.3" x2="778.6" y2="817.3" stroke-width="5.2"/>
<line x1="820.3" y1="801.3" x2="820.3" y2="811.8" stroke-width="5.2"/>
<line x1="862" y1="801.3" x2="862" y2="811.8" stroke-width="5.2"/>
<line x1="903.6" y1="801.3" x2="903.6" y2="811.8" stroke-width="5.2"/>
<line x1="945.3" y1="801.3" x2="945.3" y2="817.3" stroke-width="5.2"/>
<line x1="987" y1="801.3" x2="987" y2="811.8" stroke-width="5.2"/>
<line x1="1028.6" y1="801.3" x2="1028.6" y2="811.8" stroke-width="5.2"/>
<line x1="1070.3" y1="801.3" x2="1070.3" y2="811.8" stroke-width="5.2"/>
<line x1="1112" y1="801.3" x2="1112" y2="817.3" stroke-width="5.2"/>
<line x1="1153.6" y1="801.3" x2="1153.6" y2="811.8" stroke-width="5.2"/>
<line x1="1195.3" y1="801.3" x2="1195.3" y2="811.8" stroke-width="5.2"/>
<line x1="110" y1="1558.5" x2="1197.3" y2="1558.5" stroke-width="6.0"/>
<line x1="153.7" y1="1558.0" x2="153.7" y2="1568.5" stroke-width="5.2"/>
<line x1="195.3" y1="1558.0" x2="195.3" y2="1568.5" stroke-width="5.2"/>
<line x1="237" y1="1558.0" x2="237" y2="1568.5" stroke-width="5.2"/>
<line x1="278.7" y1="1558.0" x2="278.7" y2="1574" stroke-width="5.2"/>
<line x1="320.3" y1="1558.0" x2="320.3" y2="1568.5" stroke-width="5.2"/>
<line x1="362" y1="1558.0" x2="362" y2="1568.5" stroke-width="5.2"/>
<line x1="403.7" y1="1558.0" x2="403.7" y2="1568.5" stroke-width="5.2"/>
<line x1="445.3" y1="1558.0" x2="445.3" y2="1574" stroke-width="5.2"/>
<line x1="487" y1="1558.0" x2="487" y2="1568.5" stroke-width="5.2"/>
<line x1="528.6" y1="1558.0" x2="528.6" y2="1568.5" stroke-width="5.2"/>
<line x1="570.3" y1="1558.0" x2="570.3" y2="1568.5" stroke-width="5.2"/>
<line x1="612" y1="1558.0" x2="612" y2="1574" stroke-width="5.2"/>
<line x1="653.6" y1="1558.0" x2="653.6" y2="1568.5" stroke-width="5.2"/>
<line x1="695.3" y1="1558.0" x2="695.3" y2="1568.5" stroke-width="5.2"/>
<line x1="737" y1="1558.0" x2="737" y2="1568.5" stroke-width="5.2"/>
<line x1="778.6" y1="1558.0" x2="778.6" y2="1574" stroke-width="5.2"/>
<line x1="820.3" y1="1558.0" x2="820.3" y2="1568.5" stroke-width="5.2"/>
<line x1="862" y1="1558.0" x2="862" y2="1568.5" stroke-width="5.2"/>
<line x1="903.6" y1="1558.0" x2="903.6" y2="1568.5" stroke-width="5.2"/>
<line x1="945.3" y1="1558.0" x2="945.3" y2="1574" stroke-width="5.2"/>
<line x1="987" y1="1558.0" x2="987" y2="1568.5" stroke-width="5.2"/>
<line x1="1028.6" y1="1558.0" x2="1028.6" y2="1568.5" stroke-width="5.2"/>
<line x1="1070.3" y1="1558.0" x2="1070.3" y2="1568.5" stroke-width="5.2"/>
<line x1="1112" y1="1558.0" x2="1112" y2="1574" stroke-width="5.2"/>
<line x1="1153.6" y1="1558.0" x2="1153.6" y2="1568.5" stroke-width="5.2"/>
<line x1="1195.3" y1="1558.0" x2="1195.3" y2="1568.5" stroke-width="5.2"/>
<line x1="1320" y1="801.8" x2="2407.3" y2="801.8" stroke-width="6.0"/>
<line x1="1363.7" y1="801.3" x2="1363.7" y2="811.8" stroke-width="5.2"/>
<line x1="1405.3" y1="801.3" x2="1405.3" y2="811.8" stroke-width="5.2"/>
<line x1="1447" y1="801.3" x2="1447" y2="811.8" stroke-width="5.2"/>
<line x1="1488.7" y1="801.3" x2="1488.7" y2="817.3" stroke-width="5.2"/>
<line x1="1530.3" y1="801.3" x2="1530.3" y2="811.8" stroke-width="5.2"/>
<line x1="1572" y1="801.3" x2="1572" y2="811.8" stroke-width="5.2"/>
<line x1="1613.7" y1="801.3" x2="1613.7" y2="811.8" stroke-width="5.2"/>
<line x1="1655.3" y1="801.3" x2="1655.3" y2="817.3" stroke-width="5.2"/>
<line x1="1697" y1="801.3" x2="1697" y2="811.8" stroke-width="5.2"/>
<line x1="1738.7" y1="801.3" x2="1738.7" y2="811.8" stroke-width="5.2"/>
<line x1="1780.3" y1="801.3" x2="1780.3" y2="811.8" stroke-width="5.2"/>
<line x1="1822" y1="801.3" x2="1822" y2="817.3" stroke-width="5.2"/>
<line x1="1863.6" y1="801.3" x2="1863.6" y2="811.8" stroke-width="5.2"/>
<line x1="1905.3" y1="801.3" x2="1905.3" y2="811.8" stroke-width="5.2"/>
<line x1="1947" y1="801.3" x2="1947" y2="811.8" stroke-width="5.2"/>
<line x1="1988.6" y1="801.3" x2="1988.6" y2="817.3" stroke-width="5.2"/>
<line x1="2030.3" y1="801.3" x2="2030.3" y2="811.8" stroke-width="5.2"/>
<line x1="2072" y1="801.3" x2="2072" y2="811.8" stroke-width="5.2"/>
<line x1="2113.6" y1="801.3" x2="2113.6" y2="811.8" stroke-width="5.2"/>
<line x1="2155.3" y1="801.3" x2="2155.3" y2="817.3" stroke-width="5.2"/>
<line x1="2197" y1="801.3" x2="2197" y2="811.8" stroke-width="5.2"/>
<line x1="2238.6" y1="801.3" x2="2238.6" y2="811.8" stroke-width="5.2"/>
<line x1="2280.3" y1="801.3" x2="2280.3" y2="811.8" stroke-width="5.2"/>
<line x1="2322" y1="801.3" x2="2322" y2="817.3" stroke-width="5.2"/>
<line x1="2363.6" y1="801.3" x2="2363.6" y2="811.8" stroke-width="5.2"/>
<line x1="2405.3" y1="801.3" x2="2405.3" y2="811.8" stroke-width="5.2"/>
<line x1="1320" y1="1558.5" x2="2407.3" y2="1558.5" stroke-width="6.0"/>
<line x1="1363.7" y1="1558.0" x2="1363.7" y2="1568.5" stroke-width="5.2"/>
<line x1="1405.3" y1="1558.0" x2="1405.3" y2="1568.5" stroke-width="5.2"/>
<line x1="1447" y1="1558.0" x2="1447" y2="1568.5" stroke-width="5.2"/>
<line x1="1488.7" y1="1558.0" x2="1488.7" y2="1574" stroke-width="5.2"/>
<line x1="1530.3" y1="1558.0" x2="1530.3" y2="1568.5" stroke-width="5.2"/>
<line x1="1572" y1="1558.0" x2="1572" y2="1568.5" stroke-width="5.2"/>
<line x1="1613.7" y1="1558.0" x2="1613.7" y2="1568.5" stroke-width="5.2"/>
<line x1="1655.3" y1="1558.0" x2="1655.3" y2="1574" stroke-width="5.2"/>
<line x1="1697" y1="1558.0" x2="1697" y2="1568.5" stroke-width="5.2"/>
<line x1="1738.7" y1="1558.0" x2="1738.7" y2="1568.5" stroke-width="5.2"/>
<line x1="1780.3" y1="1558.0" x2="1780.3" y2="1568.5" stroke-width="5.2"/>
<line x1="1822" y1="1558.0" x2="1822" y2="1574" stroke-width="5.2"/>
<line x1="1863.6" y1="1558.0" x2="1863.6" y2="1568.5" stroke-width="5.2"/>
<line x1="1905.3" y1="1558.0" x2="1905.3" y2="1568.5" stroke-width="5.2"/>
<line x1="1947" y1="1558.0" x2="1947" y2="1568.5" stroke-width="5.2"/>
<line x1="1988.6" y1="1558.0" x2="1988.6" y2="1574" stroke-width="5.2"/>
<line x1="2030.3" y1="1558.0" x2="2030.3" y2="1568.5" stroke-width="5.2"/>
<line x1="2072" y1="1558.0" x2="2072" y2="1568.5" stroke-width="5.2"/>
<line x1="2113.6" y1="1558.0" x2="2113.6" y2="1568.5" stroke-width="5.2"/>
<line x1="2155.3" y1="1558.0" x2="2155.3" y2="1574" stroke-width="5.2"/>
<line x1="2197" y1="1558.0" x2="2197" y2="1568.5" stroke-width="5.2"/>
<line x1="2238.6" y1="1558.0" x2="2238.6" y2="1568.5" stroke-width="5.2"/>
<line x1="2280.3" y1="1558.0" x2="2280.3" y2="1568.5" stroke-width="5.2"/>
<line x1="2322" y1="1558.0" x2="2322" y2="1574" stroke-width="5.2"/>
<line x1="2363.6" y1="1558.0" x2="2363.6" y2="1568.5" stroke-width="5.2"/>
<line x1="2405.3" y1="1558.0" x2="2405.3" y2="1568.5" stroke-width="5.2"/>
</g>
<line x1="556.5" y1="536" x2="617.7" y2="672.6" stroke="#0f8a1a" stroke-width="5.6"/><polygon points="630,700 606.6,675.4 627.2,666.2" fill="#0f8a1a"/>
<line x1="1029" y1="382.5" x2="759.3" y2="636.1" stroke="#e0141c" stroke-width="5.6"/><polygon points="737.4,656.7 753,626.6 768.4,643" fill="#e0141c"/>
<line x1="1044" y1="615" x2="828.8" y2="702.3" stroke="#1010dc" stroke-width="5.6"/><polygon points="801,713.6 826.4,691.1 834.9,712" fill="#1010dc"/>
<line x1="551" y1="1320.7" x2="613.5" y2="1428.1" stroke="#0f8a1a" stroke-width="5.6"/><polygon points="628.6,1454 602.8,1432 622.2,1420.7" fill="#0f8a1a"/>
<line x1="1008" y1="1112.3" x2="749.1" y2="1399.7" stroke="#e0141c" stroke-width="5.6"/><polygon points="729,1422 742.1,1390.7 758.8,1405.8" fill="#e0141c"/>
<line x1="1046" y1="1282" x2="859.5" y2="1430" stroke="#1010dc" stroke-width="5.6"/><polygon points="836,1448.6 854.1,1419.9 868.1,1437.5" fill="#1010dc"/>
<line x1="2319.4" y1="972" x2="2126.8" y2="784.9" stroke="#1010dc" stroke-width="5.6"/><polygon points="2105.3,764 2136.1,778.2 2120.4,794.4" fill="#1010dc"/>
<line x1="2302.4" y1="1055" x2="2112" y2="1461.5" stroke="#1010dc" stroke-width="5.6"/><polygon points="2099.3,1488.7 2102.7,1454.9 2123.1,1464.5" fill="#1010dc"/>
<g font-family='"Liberation Sans", sans-serif' stroke-width="1.5" stroke-linejoin="round" style="paint-order:stroke">
<text transform="translate(127.5 105) scale(1 1.03)" font-size="111.5" fill="#000" stroke="#000" text-anchor="start">A</text>
<text transform="translate(1342 105) scale(1 1.03)" font-size="111.5" fill="#000" stroke="#000" text-anchor="start">B</text>
<text transform="translate(124.5 949.5) scale(1 1.03)" font-size="111.5" fill="#000" stroke="#000" text-anchor="start">C</text>
<text transform="translate(1339 948.5) scale(1 1.03)" font-size="111.5" fill="#000" stroke="#000" text-anchor="start">D</text>
<text transform="translate(63.3 564.5) rotate(-90) scale(1 1.03)" font-size="54.0" fill="#000" stroke="#000">relative intensity</text>
<text transform="translate(1283.3 564.5) rotate(-90) scale(1 1.03)" font-size="54.0" fill="#000" stroke="#000">relative intensity</text>
<text transform="translate(63.3 1355.3) rotate(-90) scale(1 1.03)" font-size="54.0" fill="#000" stroke="#000">relative intensity</text>
<text transform="translate(1283.3 1355.3) rotate(-90) scale(1 1.03)" font-size="54.0" fill="#000" stroke="#000">relative intensity</text>
<text transform="translate(112 1626) scale(1 1.03)" font-size="54.0" fill="#000" stroke="#000" text-anchor="middle">408</text>
<text transform="translate(278.7 1626) scale(1 1.03)" font-size="54.0" fill="#000" stroke="#000" text-anchor="middle">406</text>
<text transform="translate(445.3 1626) scale(1 1.03)" font-size="54.0" fill="#000" stroke="#000" text-anchor="middle">404</text>
<text transform="translate(612 1626) scale(1 1.03)" font-size="54.0" fill="#000" stroke="#000" text-anchor="middle">402</text>
<text transform="translate(778.6 1626) scale(1 1.03)" font-size="54.0" fill="#000" stroke="#000" text-anchor="middle">400</text>
<text transform="translate(945.3 1626) scale(1 1.03)" font-size="54.0" fill="#000" stroke="#000" text-anchor="middle">398</text>
<text transform="translate(1112 1626) scale(1 1.03)" font-size="54.0" fill="#000" stroke="#000" text-anchor="middle">396</text>
<text transform="translate(1322 1626) scale(1 1.03)" font-size="54.0" fill="#000" stroke="#000" text-anchor="middle">296</text>
<text transform="translate(1488.7 1626) scale(1 1.03)" font-size="54.0" fill="#000" stroke="#000" text-anchor="middle">294</text>
<text transform="translate(1655.3 1626) scale(1 1.03)" font-size="54.0" fill="#000" stroke="#000" text-anchor="middle">292</text>
<text transform="translate(1822 1626) scale(1 1.03)" font-size="54.0" fill="#000" stroke="#000" text-anchor="middle">290</text>
<text transform="translate(1988.6 1626) scale(1 1.03)" font-size="54.0" fill="#000" stroke="#000" text-anchor="middle">288</text>
<text transform="translate(2155.3 1626) scale(1 1.03)" font-size="54.0" fill="#000" stroke="#000" text-anchor="middle">286</text>
<text transform="translate(2322 1626) scale(1 1.03)" font-size="54.0" fill="#000" stroke="#000" text-anchor="middle">284</text>
<text transform="translate(653.5 1695) scale(1 1.03)" font-size="53.9" fill="#000" stroke="#000" text-anchor="middle">Binding energy / eV</text>
<text transform="translate(1933 1680.5) scale(1 1.03)" font-size="53.9" fill="#000" stroke="#000" text-anchor="middle">Binding energy / eV</text>
<text transform="translate(282.3 637) scale(1 1.03)" font-size="54.0" fill="#808080" stroke="#808080" text-anchor="start">satellite</text>
<text transform="translate(282.3 1373.5) scale(1 1.03)" font-size="54.0" fill="#808080" stroke="#808080" text-anchor="start">satellite</text>
<text transform="translate(1397.5 646.5) scale(1 1.03)" font-size="54.0" fill="#7e8286" stroke="#7e8286" text-anchor="start">satellite</text>
<text transform="translate(1397.5 1427.6) scale(1 1.03)" font-size="54.0" fill="#7e8286" stroke="#7e8286" text-anchor="start">satellite</text>
<text transform="translate(780.5 146.5) scale(1 1.03)" font-size="54.0" fill="#000" stroke="#000" text-anchor="start">C=N-C</text>
<text transform="translate(780.5 907) scale(1 1.03)" font-size="54.0" fill="#000" stroke="#000" text-anchor="start">C=N-C</text>
<text transform="translate(2183.5 645.6) scale(1 1.03)" font-size="54.0" fill="#000" stroke="#000" text-anchor="start">C-C</text>
<text transform="translate(2183.5 1365) scale(1 1.03)" font-size="54.0" fill="#000" stroke="#000" text-anchor="start">C-C</text>
<text transform="translate(469 497) scale(1 1.03)" font-size="54.0" fill="#0f8a1a" stroke="#0f8a1a">(C)<tspan dy="18" font-size="33.5">3</tspan><tspan dy="-18">-N</tspan></text>
<text transform="translate(469 1283) scale(1 1.03)" font-size="54.0" fill="#0f8a1a" stroke="#0f8a1a">(C)<tspan dy="18" font-size="33.5">3</tspan><tspan dy="-18">-N</tspan></text>
<text transform="translate(1030 362) scale(1 1.03)" font-size="54.0" fill="#e0141c" stroke="#e0141c">(C)<tspan dy="18" font-size="33.5">2</tspan><tspan dy="-18">-NH</tspan></text>
<text transform="translate(1030 1094.2) scale(1 1.03)" font-size="54.0" fill="#e0141c" stroke="#e0141c">(C)<tspan dy="18" font-size="33.5">2</tspan><tspan dy="-18">-NH</tspan></text>
<text transform="translate(1047.5 617.3) scale(1 1.03)" font-size="54.0" fill="#1010dc" stroke="#1010dc">C-NH<tspan dy="18" font-size="33.5">2</tspan></text>
<text transform="translate(1047.5 1282) scale(1 1.03)" font-size="54.0" fill="#1010dc" stroke="#1010dc">C-NH<tspan dy="18" font-size="33.5">2</tspan></text>
<text transform="translate(1843.2 60.5) scale(1 1.03)" font-size="54.0" fill="#e0141c" stroke="#e0141c">N=C-(N)<tspan dy="18" font-size="33.5">2</tspan></text>
<text transform="translate(1843.2 958.8) scale(1 1.03)" font-size="54.0" fill="#e0141c" stroke="#e0141c">N=C-(N)<tspan dy="18" font-size="33.5">2</tspan></text>
<text transform="translate(2242.5 1025) scale(1 1.03)" font-size="54.0" fill="#1010dc" stroke="#1010dc" text-anchor="start">impurities</text>
</g>
</g>
</svg>
</body>
</html>
